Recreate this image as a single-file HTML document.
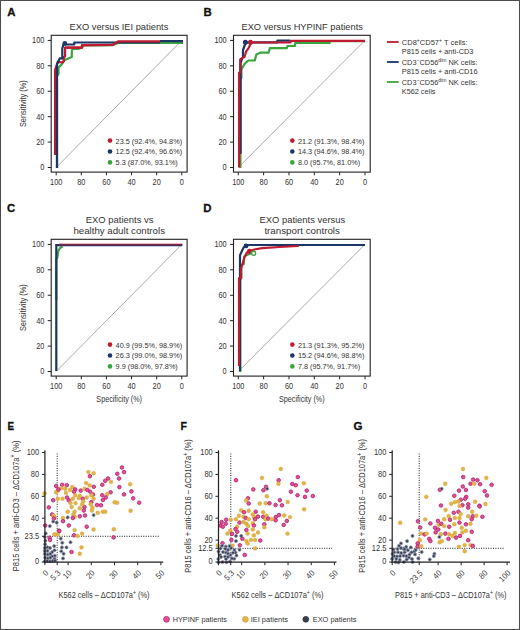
<!DOCTYPE html>
<html><head><meta charset="utf-8"><style>
html,body{margin:0;padding:0;background:#fff;}
svg{display:block;font-family:"Liberation Sans", sans-serif;}
</style></head><body>
<svg width="520" height="630" viewBox="0 0 520 630">
<rect width="520" height="630" fill="#fff"/>
<text x="7.20" y="15.70" font-size="11.4" text-anchor="start" fill="#111" font-weight="bold" stroke="#111" stroke-width="0.3">A</text>
<text x="118.90" y="30.00" font-size="9.3" text-anchor="middle" fill="#333333" textLength="98.80" lengthAdjust="spacingAndGlyphs" >EXO versus IEI patients</text>
<line x1="56.20" y1="167.50" x2="181.80" y2="40.40" stroke="#a9a9a9" stroke-width="1.0"/>
<path d="M57.00,168.00 L57.00,76.00 L58.50,74.00 L58.50,67.30 L61.00,65.40 L64.20,60.30 L71.20,57.20 L71.80,57.00 L71.80,50.20 L73.00,48.90 L78.20,48.90 L82.00,47.40 L84.00,45.30 L113.00,45.10 L118.00,43.00 L183.00,43.00"  fill="none" stroke="#3aa43f" stroke-width="2.2" stroke-linejoin="round"/>
<path d="M55.10,155.00 L55.10,69.90 L57.80,61.80 L62.50,62.50 L63.80,61.00 L63.80,57.00 L65.10,56.50 L65.10,47.60 L82.00,47.60 L82.00,45.10 L113.00,44.90"  fill="none" stroke="#c01a31" stroke-width="2.2" stroke-linejoin="round"/>
<path d="M57.00,168.00 L57.00,64.20 L59.70,58.40 L62.30,58.40 L62.30,48.30 L63.50,44.50 L74.30,44.50 L74.30,42.50 L160.00,42.50"  fill="none" stroke="#1a3566" stroke-width="2.2" stroke-linejoin="round"/>
<circle cx="64.80" cy="43.40" r="2.4" fill="#1a3566"/>
<path d="M65.10,47.60 L82.00,47.60 L82.00,45.10 L113.00,44.90 L118.00,41.30 L160.00,41.30"  fill="none" stroke="#c01a31" stroke-width="2.2" stroke-linejoin="round"/>
<path d="M160.00,41.10 L183.00,41.10"  fill="none" stroke="#1a3566" stroke-width="2.2" stroke-linejoin="round"/>
<rect x="51.20" y="35.30" width="135.90" height="136.80" fill="none" stroke="#231f20" stroke-width="1.1"/>
<line x1="47.70" y1="167.50" x2="51.20" y2="167.50" stroke="#231f20" stroke-width="1"/>
<text x="44.40" y="170.40" font-size="8.2" text-anchor="end" fill="#333333" textLength="4.10" lengthAdjust="spacingAndGlyphs" >0</text>
<line x1="47.70" y1="142.08" x2="51.20" y2="142.08" stroke="#231f20" stroke-width="1"/>
<text x="44.40" y="144.98" font-size="8.2" text-anchor="end" fill="#333333" textLength="8.21" lengthAdjust="spacingAndGlyphs" >20</text>
<line x1="47.70" y1="116.66" x2="51.20" y2="116.66" stroke="#231f20" stroke-width="1"/>
<text x="44.40" y="119.56" font-size="8.2" text-anchor="end" fill="#333333" textLength="8.21" lengthAdjust="spacingAndGlyphs" >40</text>
<line x1="47.70" y1="91.24" x2="51.20" y2="91.24" stroke="#231f20" stroke-width="1"/>
<text x="44.40" y="94.14" font-size="8.2" text-anchor="end" fill="#333333" textLength="8.21" lengthAdjust="spacingAndGlyphs" >60</text>
<line x1="47.70" y1="65.82" x2="51.20" y2="65.82" stroke="#231f20" stroke-width="1"/>
<text x="44.40" y="68.72" font-size="8.2" text-anchor="end" fill="#333333" textLength="8.21" lengthAdjust="spacingAndGlyphs" >80</text>
<line x1="47.70" y1="40.40" x2="51.20" y2="40.40" stroke="#231f20" stroke-width="1"/>
<text x="44.40" y="43.30" font-size="8.2" text-anchor="end" fill="#333333" textLength="12.31" lengthAdjust="spacingAndGlyphs" >100</text>
<line x1="181.80" y1="172.10" x2="181.80" y2="175.30" stroke="#231f20" stroke-width="1"/>
<text x="181.80" y="185.30" font-size="8.2" text-anchor="middle" fill="#333333" textLength="4.10" lengthAdjust="spacingAndGlyphs" >0</text>
<line x1="156.68" y1="172.10" x2="156.68" y2="175.30" stroke="#231f20" stroke-width="1"/>
<text x="156.68" y="185.30" font-size="8.2" text-anchor="middle" fill="#333333" textLength="8.21" lengthAdjust="spacingAndGlyphs" >20</text>
<line x1="131.56" y1="172.10" x2="131.56" y2="175.30" stroke="#231f20" stroke-width="1"/>
<text x="131.56" y="185.30" font-size="8.2" text-anchor="middle" fill="#333333" textLength="8.21" lengthAdjust="spacingAndGlyphs" >40</text>
<line x1="106.44" y1="172.10" x2="106.44" y2="175.30" stroke="#231f20" stroke-width="1"/>
<text x="106.44" y="185.30" font-size="8.2" text-anchor="middle" fill="#333333" textLength="8.21" lengthAdjust="spacingAndGlyphs" >60</text>
<line x1="81.32" y1="172.10" x2="81.32" y2="175.30" stroke="#231f20" stroke-width="1"/>
<text x="81.32" y="185.30" font-size="8.2" text-anchor="middle" fill="#333333" textLength="8.21" lengthAdjust="spacingAndGlyphs" >80</text>
<line x1="56.20" y1="172.10" x2="56.20" y2="175.30" stroke="#231f20" stroke-width="1"/>
<text x="56.20" y="185.30" font-size="8.2" text-anchor="middle" fill="#333333" textLength="12.31" lengthAdjust="spacingAndGlyphs" >100</text>
<text x="0.00" y="0.00" font-size="8.6" text-anchor="middle" fill="#333333" textLength="46.70" lengthAdjust="spacingAndGlyphs" transform="translate(26.20,103.70) rotate(-90)" >Sensitivity (%)</text>
<circle cx="110.00" cy="140.60" r="2.3" fill="#c01a31"/>
<text x="115.60" y="143.50" font-size="7.9" text-anchor="start" fill="#333333" textLength="66.50" lengthAdjust="spacingAndGlyphs" >23.5 (92.4%, 94.8%)</text>
<circle cx="110.00" cy="151.50" r="2.3" fill="#1a3566"/>
<text x="115.60" y="154.40" font-size="7.9" text-anchor="start" fill="#333333" textLength="66.50" lengthAdjust="spacingAndGlyphs" >12.5 (92.4%, 96.6%)</text>
<circle cx="110.00" cy="162.40" r="2.3" fill="#3aa43f"/>
<text x="115.60" y="165.30" font-size="7.9" text-anchor="start" fill="#333333" textLength="62.20" lengthAdjust="spacingAndGlyphs" >5.3 (87.0%, 93.1%)</text>
<text x="203.50" y="15.80" font-size="11.4" text-anchor="start" fill="#111" font-weight="bold" stroke="#111" stroke-width="0.3">B</text>
<text x="302.20" y="30.00" font-size="9.3" text-anchor="middle" fill="#333333" textLength="121.50" lengthAdjust="spacingAndGlyphs" >EXO versus HYPINF patients</text>
<line x1="238.30" y1="167.50" x2="365.00" y2="40.40" stroke="#a9a9a9" stroke-width="1.0"/>
<path d="M240.40,168.00 L240.40,80.00 L241.40,78.00 L241.40,69.40 L244.50,64.00 L248.30,60.50 L254.80,60.50 L256.40,54.40 L260.60,52.60 L268.60,52.60 L269.80,48.20 L286.80,48.20 L287.40,46.00 L295.00,46.00 L295.30,42.90 L329.70,42.90 L329.70,41.20 L365.00,41.20"  fill="none" stroke="#3aa43f" stroke-width="2.2" stroke-linejoin="round"/>
<path d="M240.60,153.80 L240.60,63.00 L241.80,59.40 L243.00,57.00 L243.00,50.00 L245.00,44.50 L246.00,42.50 L277.40,42.30 L277.40,40.60 L290.00,40.60"  fill="none" stroke="#1a3566" stroke-width="2.2" stroke-linejoin="round"/>
<circle cx="245.40" cy="42.30" r="2.5" fill="#1a3566"/>
<path d="M239.10,167.50 L239.10,72.50 L240.20,72.50 L240.20,59.40 L242.50,57.80 L244.50,57.00 L246.00,51.70 L248.30,48.60 L250.50,44.00 L252.00,42.50 L290.50,42.50 L290.50,40.90 L365.00,40.90"  fill="none" stroke="#c01a31" stroke-width="2.2" stroke-linejoin="round"/>
<circle cx="250.50" cy="42.20" r="2.5" fill="#c01a31"/>
<rect x="233.50" y="35.30" width="136.70" height="136.80" fill="none" stroke="#231f20" stroke-width="1.1"/>
<line x1="230.00" y1="167.50" x2="233.50" y2="167.50" stroke="#231f20" stroke-width="1"/>
<text x="226.70" y="170.40" font-size="8.2" text-anchor="end" fill="#333333" textLength="4.10" lengthAdjust="spacingAndGlyphs" >0</text>
<line x1="230.00" y1="142.08" x2="233.50" y2="142.08" stroke="#231f20" stroke-width="1"/>
<text x="226.70" y="144.98" font-size="8.2" text-anchor="end" fill="#333333" textLength="8.21" lengthAdjust="spacingAndGlyphs" >20</text>
<line x1="230.00" y1="116.66" x2="233.50" y2="116.66" stroke="#231f20" stroke-width="1"/>
<text x="226.70" y="119.56" font-size="8.2" text-anchor="end" fill="#333333" textLength="8.21" lengthAdjust="spacingAndGlyphs" >40</text>
<line x1="230.00" y1="91.24" x2="233.50" y2="91.24" stroke="#231f20" stroke-width="1"/>
<text x="226.70" y="94.14" font-size="8.2" text-anchor="end" fill="#333333" textLength="8.21" lengthAdjust="spacingAndGlyphs" >60</text>
<line x1="230.00" y1="65.82" x2="233.50" y2="65.82" stroke="#231f20" stroke-width="1"/>
<text x="226.70" y="68.72" font-size="8.2" text-anchor="end" fill="#333333" textLength="8.21" lengthAdjust="spacingAndGlyphs" >80</text>
<line x1="230.00" y1="40.40" x2="233.50" y2="40.40" stroke="#231f20" stroke-width="1"/>
<text x="226.70" y="43.30" font-size="8.2" text-anchor="end" fill="#333333" textLength="12.31" lengthAdjust="spacingAndGlyphs" >100</text>
<line x1="365.00" y1="172.10" x2="365.00" y2="175.30" stroke="#231f20" stroke-width="1"/>
<text x="365.00" y="185.30" font-size="8.2" text-anchor="middle" fill="#333333" textLength="4.10" lengthAdjust="spacingAndGlyphs" >0</text>
<line x1="339.66" y1="172.10" x2="339.66" y2="175.30" stroke="#231f20" stroke-width="1"/>
<text x="339.66" y="185.30" font-size="8.2" text-anchor="middle" fill="#333333" textLength="8.21" lengthAdjust="spacingAndGlyphs" >20</text>
<line x1="314.32" y1="172.10" x2="314.32" y2="175.30" stroke="#231f20" stroke-width="1"/>
<text x="314.32" y="185.30" font-size="8.2" text-anchor="middle" fill="#333333" textLength="8.21" lengthAdjust="spacingAndGlyphs" >40</text>
<line x1="288.98" y1="172.10" x2="288.98" y2="175.30" stroke="#231f20" stroke-width="1"/>
<text x="288.98" y="185.30" font-size="8.2" text-anchor="middle" fill="#333333" textLength="8.21" lengthAdjust="spacingAndGlyphs" >60</text>
<line x1="263.64" y1="172.10" x2="263.64" y2="175.30" stroke="#231f20" stroke-width="1"/>
<text x="263.64" y="185.30" font-size="8.2" text-anchor="middle" fill="#333333" textLength="8.21" lengthAdjust="spacingAndGlyphs" >80</text>
<line x1="238.30" y1="172.10" x2="238.30" y2="175.30" stroke="#231f20" stroke-width="1"/>
<text x="238.30" y="185.30" font-size="8.2" text-anchor="middle" fill="#333333" textLength="12.31" lengthAdjust="spacingAndGlyphs" >100</text>
<circle cx="292.30" cy="140.60" r="2.3" fill="#c01a31"/>
<text x="297.90" y="143.50" font-size="7.9" text-anchor="start" fill="#333333" textLength="66.50" lengthAdjust="spacingAndGlyphs" >21.2 (91.3%, 98.4%)</text>
<circle cx="292.30" cy="151.50" r="2.3" fill="#1a3566"/>
<text x="297.90" y="154.40" font-size="7.9" text-anchor="start" fill="#333333" textLength="66.50" lengthAdjust="spacingAndGlyphs" >14.3 (94.6%, 98.4%)</text>
<circle cx="292.30" cy="162.40" r="2.3" fill="#3aa43f"/>
<text x="297.90" y="165.30" font-size="7.9" text-anchor="start" fill="#333333" textLength="62.20" lengthAdjust="spacingAndGlyphs" >8.0 (95.7%, 81.0%)</text>
<text x="7.00" y="211.80" font-size="11.4" text-anchor="start" fill="#111" font-weight="bold" stroke="#111" stroke-width="0.3">C</text>
<text x="119.60" y="222.80" font-size="9.3" text-anchor="middle" fill="#333333" textLength="67.70" lengthAdjust="spacingAndGlyphs" >EXO patients vs</text>
<text x="119.20" y="233.80" font-size="9.3" text-anchor="middle" fill="#333333" textLength="91.60" lengthAdjust="spacingAndGlyphs" >healthy adult controls</text>
<line x1="56.20" y1="371.50" x2="181.80" y2="244.40" stroke="#a9a9a9" stroke-width="1.0"/>
<path d="M56.30,300.00 L56.30,259.00 L57.40,257.50 L58.20,251.00 L60.00,248.00 L62.50,246.50"  fill="none" stroke="#3aa43f" stroke-width="2.2" stroke-linejoin="round"/>
<path d="M56.30,371.00 L56.30,245.20 L182.30,245.20" stroke-linejoin="miter" fill="none" stroke="#1a3566" stroke-width="2.2" stroke-linejoin="round"/>
<path d="M59.00,244.60 L182.30,244.60" stroke-opacity="0.6" stroke-width="2" fill="none" stroke="#c01a31" stroke-width="2.2" stroke-linejoin="round"/>
<rect x="51.20" y="239.30" width="135.90" height="136.80" fill="none" stroke="#231f20" stroke-width="1.1"/>
<line x1="47.70" y1="371.50" x2="51.20" y2="371.50" stroke="#231f20" stroke-width="1"/>
<text x="44.40" y="374.40" font-size="8.2" text-anchor="end" fill="#333333" textLength="4.10" lengthAdjust="spacingAndGlyphs" >0</text>
<line x1="47.70" y1="346.08" x2="51.20" y2="346.08" stroke="#231f20" stroke-width="1"/>
<text x="44.40" y="348.98" font-size="8.2" text-anchor="end" fill="#333333" textLength="8.21" lengthAdjust="spacingAndGlyphs" >20</text>
<line x1="47.70" y1="320.66" x2="51.20" y2="320.66" stroke="#231f20" stroke-width="1"/>
<text x="44.40" y="323.56" font-size="8.2" text-anchor="end" fill="#333333" textLength="8.21" lengthAdjust="spacingAndGlyphs" >40</text>
<line x1="47.70" y1="295.24" x2="51.20" y2="295.24" stroke="#231f20" stroke-width="1"/>
<text x="44.40" y="298.14" font-size="8.2" text-anchor="end" fill="#333333" textLength="8.21" lengthAdjust="spacingAndGlyphs" >60</text>
<line x1="47.70" y1="269.82" x2="51.20" y2="269.82" stroke="#231f20" stroke-width="1"/>
<text x="44.40" y="272.72" font-size="8.2" text-anchor="end" fill="#333333" textLength="8.21" lengthAdjust="spacingAndGlyphs" >80</text>
<line x1="47.70" y1="244.40" x2="51.20" y2="244.40" stroke="#231f20" stroke-width="1"/>
<text x="44.40" y="247.30" font-size="8.2" text-anchor="end" fill="#333333" textLength="12.31" lengthAdjust="spacingAndGlyphs" >100</text>
<line x1="181.80" y1="376.10" x2="181.80" y2="379.30" stroke="#231f20" stroke-width="1"/>
<text x="181.80" y="389.30" font-size="8.2" text-anchor="middle" fill="#333333" textLength="4.10" lengthAdjust="spacingAndGlyphs" >0</text>
<line x1="156.68" y1="376.10" x2="156.68" y2="379.30" stroke="#231f20" stroke-width="1"/>
<text x="156.68" y="389.30" font-size="8.2" text-anchor="middle" fill="#333333" textLength="8.21" lengthAdjust="spacingAndGlyphs" >20</text>
<line x1="131.56" y1="376.10" x2="131.56" y2="379.30" stroke="#231f20" stroke-width="1"/>
<text x="131.56" y="389.30" font-size="8.2" text-anchor="middle" fill="#333333" textLength="8.21" lengthAdjust="spacingAndGlyphs" >40</text>
<line x1="106.44" y1="376.10" x2="106.44" y2="379.30" stroke="#231f20" stroke-width="1"/>
<text x="106.44" y="389.30" font-size="8.2" text-anchor="middle" fill="#333333" textLength="8.21" lengthAdjust="spacingAndGlyphs" >60</text>
<line x1="81.32" y1="376.10" x2="81.32" y2="379.30" stroke="#231f20" stroke-width="1"/>
<text x="81.32" y="389.30" font-size="8.2" text-anchor="middle" fill="#333333" textLength="8.21" lengthAdjust="spacingAndGlyphs" >80</text>
<line x1="56.20" y1="376.10" x2="56.20" y2="379.30" stroke="#231f20" stroke-width="1"/>
<text x="56.20" y="389.30" font-size="8.2" text-anchor="middle" fill="#333333" textLength="12.31" lengthAdjust="spacingAndGlyphs" >100</text>
<text x="0.00" y="0.00" font-size="8.6" text-anchor="middle" fill="#333333" textLength="46.70" lengthAdjust="spacingAndGlyphs" transform="translate(26.20,307.70) rotate(-90)" >Sensitivity (%)</text>
<text x="119.15" y="402.10" font-size="8.6" text-anchor="middle" fill="#333333" textLength="45.60" lengthAdjust="spacingAndGlyphs" >Specificity (%)</text>
<circle cx="110.00" cy="344.60" r="2.3" fill="#c01a31"/>
<text x="115.60" y="347.50" font-size="7.9" text-anchor="start" fill="#333333" textLength="66.50" lengthAdjust="spacingAndGlyphs" >40.9 (99.5%, 98.9%)</text>
<circle cx="110.00" cy="355.50" r="2.3" fill="#1a3566"/>
<text x="115.60" y="358.40" font-size="7.9" text-anchor="start" fill="#333333" textLength="66.50" lengthAdjust="spacingAndGlyphs" >26.3 (99.0%, 98.9%)</text>
<circle cx="110.00" cy="366.40" r="2.3" fill="#3aa43f"/>
<text x="115.60" y="369.30" font-size="7.9" text-anchor="start" fill="#333333" textLength="62.20" lengthAdjust="spacingAndGlyphs" >9.9 (98.0%, 97.8%)</text>
<text x="203.20" y="211.80" font-size="11.4" text-anchor="start" fill="#111" font-weight="bold" stroke="#111" stroke-width="0.3">D</text>
<text x="302.35" y="222.80" font-size="9.3" text-anchor="middle" fill="#333333" textLength="85.70" lengthAdjust="spacingAndGlyphs" >EXO patients versus</text>
<text x="302.15" y="233.60" font-size="9.3" text-anchor="middle" fill="#333333" textLength="75.50" lengthAdjust="spacingAndGlyphs" >transport controls</text>
<line x1="238.30" y1="371.50" x2="365.00" y2="244.40" stroke="#a9a9a9" stroke-width="1.0"/>
<path d="M240.30,372.00 L240.30,280.00 L241.40,278.00 L241.40,265.40 L243.80,264.00 L244.20,256.50 L247.00,255.00 L251.00,253.30"  fill="none" stroke="#3aa43f" stroke-width="2.2" stroke-linejoin="round"/>
<path d="M240.00,371.00 L240.00,255.20 L243.50,247.60 L246.00,245.70 L249.00,245.00 L365.00,245.00"  fill="none" stroke="#1a3566" stroke-width="2.2" stroke-linejoin="round"/>
<circle cx="246.00" cy="245.90" r="2.4" fill="#1a3566"/>
<path d="M239.00,366.00 L239.00,278.00 L241.00,278.00 L241.00,268.00 L242.90,262.80 L244.20,257.80 L246.70,252.70 L249.50,251.00 L254.30,249.50 L262.00,248.20 L279.70,247.00 L298.00,246.00 L298.00,245.50"  fill="none" stroke="#c01a31" stroke-width="2.2" stroke-linejoin="round"/>
<circle cx="249.50" cy="251.20" r="2.5" fill="#c01a31"/>
<circle cx="253.60" cy="253.30" r="2.1" fill="none" stroke="#3aa43f" stroke-width="1.4"/>
<rect x="233.50" y="239.30" width="136.70" height="136.80" fill="none" stroke="#231f20" stroke-width="1.1"/>
<line x1="230.00" y1="371.50" x2="233.50" y2="371.50" stroke="#231f20" stroke-width="1"/>
<text x="226.70" y="374.40" font-size="8.2" text-anchor="end" fill="#333333" textLength="4.10" lengthAdjust="spacingAndGlyphs" >0</text>
<line x1="230.00" y1="346.08" x2="233.50" y2="346.08" stroke="#231f20" stroke-width="1"/>
<text x="226.70" y="348.98" font-size="8.2" text-anchor="end" fill="#333333" textLength="8.21" lengthAdjust="spacingAndGlyphs" >20</text>
<line x1="230.00" y1="320.66" x2="233.50" y2="320.66" stroke="#231f20" stroke-width="1"/>
<text x="226.70" y="323.56" font-size="8.2" text-anchor="end" fill="#333333" textLength="8.21" lengthAdjust="spacingAndGlyphs" >40</text>
<line x1="230.00" y1="295.24" x2="233.50" y2="295.24" stroke="#231f20" stroke-width="1"/>
<text x="226.70" y="298.14" font-size="8.2" text-anchor="end" fill="#333333" textLength="8.21" lengthAdjust="spacingAndGlyphs" >60</text>
<line x1="230.00" y1="269.82" x2="233.50" y2="269.82" stroke="#231f20" stroke-width="1"/>
<text x="226.70" y="272.72" font-size="8.2" text-anchor="end" fill="#333333" textLength="8.21" lengthAdjust="spacingAndGlyphs" >80</text>
<line x1="230.00" y1="244.40" x2="233.50" y2="244.40" stroke="#231f20" stroke-width="1"/>
<text x="226.70" y="247.30" font-size="8.2" text-anchor="end" fill="#333333" textLength="12.31" lengthAdjust="spacingAndGlyphs" >100</text>
<line x1="365.00" y1="376.10" x2="365.00" y2="379.30" stroke="#231f20" stroke-width="1"/>
<text x="365.00" y="389.30" font-size="8.2" text-anchor="middle" fill="#333333" textLength="4.10" lengthAdjust="spacingAndGlyphs" >0</text>
<line x1="339.66" y1="376.10" x2="339.66" y2="379.30" stroke="#231f20" stroke-width="1"/>
<text x="339.66" y="389.30" font-size="8.2" text-anchor="middle" fill="#333333" textLength="8.21" lengthAdjust="spacingAndGlyphs" >20</text>
<line x1="314.32" y1="376.10" x2="314.32" y2="379.30" stroke="#231f20" stroke-width="1"/>
<text x="314.32" y="389.30" font-size="8.2" text-anchor="middle" fill="#333333" textLength="8.21" lengthAdjust="spacingAndGlyphs" >40</text>
<line x1="288.98" y1="376.10" x2="288.98" y2="379.30" stroke="#231f20" stroke-width="1"/>
<text x="288.98" y="389.30" font-size="8.2" text-anchor="middle" fill="#333333" textLength="8.21" lengthAdjust="spacingAndGlyphs" >60</text>
<line x1="263.64" y1="376.10" x2="263.64" y2="379.30" stroke="#231f20" stroke-width="1"/>
<text x="263.64" y="389.30" font-size="8.2" text-anchor="middle" fill="#333333" textLength="8.21" lengthAdjust="spacingAndGlyphs" >80</text>
<line x1="238.30" y1="376.10" x2="238.30" y2="379.30" stroke="#231f20" stroke-width="1"/>
<text x="238.30" y="389.30" font-size="8.2" text-anchor="middle" fill="#333333" textLength="12.31" lengthAdjust="spacingAndGlyphs" >100</text>
<text x="301.85" y="402.10" font-size="8.6" text-anchor="middle" fill="#333333" textLength="45.60" lengthAdjust="spacingAndGlyphs" >Specificity (%)</text>
<circle cx="292.30" cy="344.60" r="2.3" fill="#c01a31"/>
<text x="297.90" y="347.50" font-size="7.9" text-anchor="start" fill="#333333" textLength="66.50" lengthAdjust="spacingAndGlyphs" >21.3 (91.3%, 95.2%)</text>
<circle cx="292.30" cy="355.50" r="2.3" fill="#1a3566"/>
<text x="297.90" y="358.40" font-size="7.9" text-anchor="start" fill="#333333" textLength="66.50" lengthAdjust="spacingAndGlyphs" >15.2 (94.6%, 98.8%)</text>
<circle cx="292.30" cy="366.40" r="2.3" fill="#3aa43f"/>
<text x="297.90" y="369.30" font-size="7.9" text-anchor="start" fill="#333333" textLength="62.20" lengthAdjust="spacingAndGlyphs" >7.8 (95.7%, 91.7%)</text>
<line x1="386.9" y1="42.0" x2="398.7" y2="42.0" stroke="#c01a31" stroke-width="1.8"/>
<text x="401.8" y="45.10" font-size="7.6" fill="#333333" textLength="65.8" lengthAdjust="spacingAndGlyphs">CD8<tspan font-size="5.2" dy="-3.2">+</tspan><tspan dy="3.2">CD57</tspan><tspan font-size="5.2" dy="-3.2">+</tspan><tspan dy="3.2"> T cells:</tspan></text>
<text x="401.80" y="53.80" font-size="7.6" text-anchor="start" fill="#333333" textLength="71.60" lengthAdjust="spacingAndGlyphs" >P815 cells + anti-CD3</text>
<line x1="386.9" y1="62.0" x2="398.7" y2="62.0" stroke="#1a3566" stroke-width="1.8"/>
<text x="401.8" y="65.10" font-size="7.6" fill="#333333" textLength="75.8" lengthAdjust="spacingAndGlyphs">CD3<tspan font-size="5.2" dy="-3.2">−</tspan><tspan dy="3.2">CD56</tspan><tspan font-size="5.2" dy="-3.2">dim</tspan><tspan dy="3.2"> NK cells:</tspan></text>
<text x="401.80" y="73.80" font-size="7.6" text-anchor="start" fill="#333333" textLength="75.80" lengthAdjust="spacingAndGlyphs" >P815 cells + anti-CD16</text>
<line x1="386.9" y1="82.0" x2="398.7" y2="82.0" stroke="#3aa43f" stroke-width="1.8"/>
<text x="401.8" y="85.10" font-size="7.6" fill="#333333" textLength="75.8" lengthAdjust="spacingAndGlyphs">CD3<tspan font-size="5.2" dy="-3.2">−</tspan><tspan dy="3.2">CD56</tspan><tspan font-size="5.2" dy="-3.2">dim</tspan><tspan dy="3.2"> NK cells:</tspan></text>
<text x="401.80" y="93.80" font-size="7.6" text-anchor="start" fill="#333333" textLength="33.60" lengthAdjust="spacingAndGlyphs" >K562 cells</text>
<text x="7.40" y="429.60" font-size="11.4" text-anchor="start" fill="#111" font-weight="bold" textLength="6.60" lengthAdjust="spacingAndGlyphs" stroke="#111" stroke-width="0.3">E</text>
<line x1="57.20" y1="453.50" x2="57.20" y2="562.20" stroke="#1e1e1e" stroke-width="1.0" stroke-dasharray="1.0 1.4"/>
<line x1="44.90" y1="536.27" x2="159.40" y2="536.27" stroke="#1e1e1e" stroke-width="1.0" stroke-dasharray="1.0 1.4"/>
<circle cx="88.4" cy="472.1" r="1.95" fill="#e2b447" stroke="#d0a23c" stroke-width="0.4"/>
<circle cx="93.6" cy="473.3" r="1.95" fill="#e2b447" stroke="#d0a23c" stroke-width="0.4"/>
<circle cx="89.9" cy="476.2" r="1.8" fill="#e0519a" stroke="#b3246c" stroke-width="0.85"/>
<circle cx="86.1" cy="483.1" r="1.95" fill="#e2b447" stroke="#d0a23c" stroke-width="0.4"/>
<circle cx="89.6" cy="485.4" r="1.95" fill="#e2b447" stroke="#d0a23c" stroke-width="0.4"/>
<circle cx="93.8" cy="486.8" r="1.8" fill="#e0519a" stroke="#b3246c" stroke-width="0.85"/>
<circle cx="102.3" cy="484.8" r="1.8" fill="#e0519a" stroke="#b3246c" stroke-width="0.85"/>
<circle cx="56.1" cy="486.0" r="1.8" fill="#e0519a" stroke="#b3246c" stroke-width="0.85"/>
<circle cx="62.2" cy="484.8" r="1.8" fill="#e0519a" stroke="#b3246c" stroke-width="0.85"/>
<circle cx="66.8" cy="485.2" r="1.8" fill="#e0519a" stroke="#b3246c" stroke-width="0.85"/>
<circle cx="61.3" cy="488.3" r="1.95" fill="#e2b447" stroke="#d0a23c" stroke-width="0.4"/>
<circle cx="65.3" cy="488.8" r="1.95" fill="#e2b447" stroke="#d0a23c" stroke-width="0.4"/>
<circle cx="72.3" cy="487.1" r="1.95" fill="#e2b447" stroke="#d0a23c" stroke-width="0.4"/>
<circle cx="70.0" cy="490.0" r="1.95" fill="#e2b447" stroke="#d0a23c" stroke-width="0.4"/>
<circle cx="75.2" cy="489.4" r="1.8" fill="#e0519a" stroke="#b3246c" stroke-width="0.85"/>
<circle cx="74.0" cy="491.7" r="1.8" fill="#e0519a" stroke="#b3246c" stroke-width="0.85"/>
<circle cx="80.7" cy="490.6" r="1.8" fill="#e0519a" stroke="#b3246c" stroke-width="0.85"/>
<circle cx="84.6" cy="488.8" r="1.95" fill="#e2b447" stroke="#d0a23c" stroke-width="0.4"/>
<circle cx="87.3" cy="490.0" r="1.8" fill="#e0519a" stroke="#b3246c" stroke-width="0.85"/>
<circle cx="90.2" cy="491.7" r="1.8" fill="#e0519a" stroke="#b3246c" stroke-width="0.85"/>
<circle cx="93.0" cy="494.6" r="1.8" fill="#e0519a" stroke="#b3246c" stroke-width="0.85"/>
<circle cx="91.3" cy="495.2" r="1.95" fill="#e2b447" stroke="#d0a23c" stroke-width="0.4"/>
<circle cx="56.1" cy="492.3" r="1.95" fill="#e2b447" stroke="#d0a23c" stroke-width="0.4"/>
<circle cx="57.8" cy="490.6" r="1.95" fill="#e2b447" stroke="#d0a23c" stroke-width="0.4"/>
<circle cx="44.6" cy="493.5" r="1.95" fill="#e2b447" stroke="#d0a23c" stroke-width="0.4"/>
<circle cx="58.4" cy="489.4" r="1.8" fill="#e0519a" stroke="#b3246c" stroke-width="0.85"/>
<circle cx="65.9" cy="492.9" r="1.95" fill="#e2b447" stroke="#d0a23c" stroke-width="0.4"/>
<circle cx="75.2" cy="495.2" r="1.95" fill="#e2b447" stroke="#d0a23c" stroke-width="0.4"/>
<circle cx="79.8" cy="495.8" r="1.95" fill="#e2b447" stroke="#d0a23c" stroke-width="0.4"/>
<circle cx="86.7" cy="497.5" r="1.95" fill="#e2b447" stroke="#d0a23c" stroke-width="0.4"/>
<circle cx="93.6" cy="498.7" r="1.95" fill="#e2b447" stroke="#d0a23c" stroke-width="0.4"/>
<circle cx="102.3" cy="495.2" r="1.8" fill="#e0519a" stroke="#b3246c" stroke-width="0.85"/>
<circle cx="102.9" cy="500.0" r="1.8" fill="#e0519a" stroke="#b3246c" stroke-width="0.85"/>
<circle cx="53.2" cy="500.2" r="1.8" fill="#e0519a" stroke="#b3246c" stroke-width="0.85"/>
<circle cx="57.8" cy="498.7" r="1.95" fill="#e2b447" stroke="#d0a23c" stroke-width="0.4"/>
<circle cx="62.5" cy="498.7" r="1.95" fill="#e2b447" stroke="#d0a23c" stroke-width="0.4"/>
<circle cx="67.1" cy="497.5" r="1.8" fill="#e0519a" stroke="#b3246c" stroke-width="0.85"/>
<circle cx="68.8" cy="500.4" r="1.8" fill="#e0519a" stroke="#b3246c" stroke-width="0.85"/>
<circle cx="72.8" cy="498.7" r="1.95" fill="#e2b447" stroke="#d0a23c" stroke-width="0.4"/>
<circle cx="78.6" cy="498.1" r="1.95" fill="#e2b447" stroke="#d0a23c" stroke-width="0.4"/>
<circle cx="82.7" cy="498.7" r="1.8" fill="#e0519a" stroke="#b3246c" stroke-width="0.85"/>
<circle cx="83.2" cy="501.5" r="1.95" fill="#e2b447" stroke="#d0a23c" stroke-width="0.4"/>
<circle cx="91.3" cy="502.1" r="1.8" fill="#e0519a" stroke="#b3246c" stroke-width="0.85"/>
<circle cx="70.5" cy="502.9" r="1.95" fill="#e2b447" stroke="#d0a23c" stroke-width="0.4"/>
<circle cx="75.5" cy="503.1" r="1.95" fill="#e2b447" stroke="#d0a23c" stroke-width="0.4"/>
<circle cx="97.0" cy="505.0" r="1.8" fill="#e0519a" stroke="#b3246c" stroke-width="0.85"/>
<circle cx="101.0" cy="505.3" r="1.8" fill="#e0519a" stroke="#b3246c" stroke-width="0.85"/>
<circle cx="121.9" cy="467.5" r="1.8" fill="#e0519a" stroke="#b3246c" stroke-width="0.85"/>
<circle cx="124.0" cy="472.1" r="1.8" fill="#e0519a" stroke="#b3246c" stroke-width="0.85"/>
<circle cx="117.3" cy="473.8" r="1.8" fill="#e0519a" stroke="#b3246c" stroke-width="0.85"/>
<circle cx="119.0" cy="478.5" r="1.8" fill="#e0519a" stroke="#b3246c" stroke-width="0.85"/>
<circle cx="108.1" cy="478.5" r="1.8" fill="#e0519a" stroke="#b3246c" stroke-width="0.85"/>
<circle cx="105.2" cy="480.8" r="1.8" fill="#e0519a" stroke="#b3246c" stroke-width="0.85"/>
<circle cx="111.0" cy="481.9" r="1.95" fill="#e2b447" stroke="#d0a23c" stroke-width="0.4"/>
<circle cx="130.2" cy="484.2" r="1.95" fill="#e2b447" stroke="#d0a23c" stroke-width="0.4"/>
<circle cx="119.4" cy="487.1" r="1.8" fill="#e0519a" stroke="#b3246c" stroke-width="0.85"/>
<circle cx="110.6" cy="492.3" r="1.8" fill="#e0519a" stroke="#b3246c" stroke-width="0.85"/>
<circle cx="107.2" cy="494.0" r="1.95" fill="#e2b447" stroke="#d0a23c" stroke-width="0.4"/>
<circle cx="105.8" cy="497.5" r="1.8" fill="#e0519a" stroke="#b3246c" stroke-width="0.85"/>
<circle cx="124.0" cy="494.4" r="1.8" fill="#e0519a" stroke="#b3246c" stroke-width="0.85"/>
<circle cx="131.4" cy="491.4" r="1.8" fill="#e0519a" stroke="#b3246c" stroke-width="0.85"/>
<circle cx="133.2" cy="498.3" r="1.8" fill="#e0519a" stroke="#b3246c" stroke-width="0.85"/>
<circle cx="139.2" cy="502.7" r="1.8" fill="#e0519a" stroke="#b3246c" stroke-width="0.85"/>
<circle cx="114.6" cy="502.3" r="1.95" fill="#e2b447" stroke="#d0a23c" stroke-width="0.4"/>
<circle cx="117.1" cy="502.7" r="1.95" fill="#e2b447" stroke="#d0a23c" stroke-width="0.4"/>
<circle cx="48.8" cy="507.4" r="1.8" fill="#e0519a" stroke="#b3246c" stroke-width="0.85"/>
<circle cx="71.7" cy="507.0" r="1.95" fill="#e2b447" stroke="#d0a23c" stroke-width="0.4"/>
<circle cx="79.8" cy="508.2" r="1.95" fill="#e2b447" stroke="#d0a23c" stroke-width="0.4"/>
<circle cx="84.4" cy="507.0" r="1.8" fill="#e0519a" stroke="#b3246c" stroke-width="0.85"/>
<circle cx="83.8" cy="510.5" r="1.8" fill="#e0519a" stroke="#b3246c" stroke-width="0.85"/>
<circle cx="82.1" cy="504.2" r="1.95" fill="#e2b447" stroke="#d0a23c" stroke-width="0.4"/>
<circle cx="90.7" cy="504.2" r="1.95" fill="#e2b447" stroke="#d0a23c" stroke-width="0.4"/>
<circle cx="92.5" cy="507.6" r="1.95" fill="#e2b447" stroke="#d0a23c" stroke-width="0.4"/>
<circle cx="91.9" cy="510.5" r="1.95" fill="#e2b447" stroke="#d0a23c" stroke-width="0.4"/>
<circle cx="97.7" cy="512.8" r="1.95" fill="#e2b447" stroke="#d0a23c" stroke-width="0.4"/>
<circle cx="102.8" cy="511.7" r="1.95" fill="#e2b447" stroke="#d0a23c" stroke-width="0.4"/>
<circle cx="67.7" cy="511.7" r="1.95" fill="#e2b447" stroke="#d0a23c" stroke-width="0.4"/>
<circle cx="74.6" cy="511.7" r="1.95" fill="#e2b447" stroke="#d0a23c" stroke-width="0.4"/>
<circle cx="73.4" cy="514.5" r="1.95" fill="#e2b447" stroke="#d0a23c" stroke-width="0.4"/>
<circle cx="74.6" cy="516.8" r="1.95" fill="#e2b447" stroke="#d0a23c" stroke-width="0.4"/>
<circle cx="72.8" cy="518.0" r="1.8" fill="#e0519a" stroke="#b3246c" stroke-width="0.85"/>
<circle cx="79.8" cy="516.3" r="1.8" fill="#e0519a" stroke="#b3246c" stroke-width="0.85"/>
<circle cx="85.0" cy="515.5" r="1.8" fill="#e0519a" stroke="#b3246c" stroke-width="0.85"/>
<circle cx="93.6" cy="515.1" r="1.55" fill="#3a3f52" stroke="#8d95ab" stroke-width="0.8"/>
<circle cx="52.1" cy="514.5" r="1.8" fill="#e0519a" stroke="#b3246c" stroke-width="0.85"/>
<circle cx="53.8" cy="515.7" r="1.95" fill="#e2b447" stroke="#d0a23c" stroke-width="0.4"/>
<circle cx="54.4" cy="517.4" r="1.95" fill="#e2b447" stroke="#d0a23c" stroke-width="0.4"/>
<circle cx="53.8" cy="518.6" r="1.8" fill="#e0519a" stroke="#b3246c" stroke-width="0.85"/>
<circle cx="53.2" cy="521.5" r="1.55" fill="#3a3f52" stroke="#8d95ab" stroke-width="0.8"/>
<circle cx="56.7" cy="522.6" r="1.55" fill="#3a3f52" stroke="#8d95ab" stroke-width="0.8"/>
<circle cx="63.0" cy="518.0" r="1.95" fill="#e2b447" stroke="#d0a23c" stroke-width="0.4"/>
<circle cx="67.7" cy="517.4" r="1.55" fill="#3a3f52" stroke="#8d95ab" stroke-width="0.8"/>
<circle cx="63.0" cy="521.2" r="1.8" fill="#e0519a" stroke="#b3246c" stroke-width="0.85"/>
<circle cx="68.8" cy="525.5" r="1.8" fill="#e0519a" stroke="#b3246c" stroke-width="0.85"/>
<circle cx="45.2" cy="525.5" r="1.8" fill="#e0519a" stroke="#b3246c" stroke-width="0.85"/>
<circle cx="49.8" cy="526.1" r="1.55" fill="#3a3f52" stroke="#8d95ab" stroke-width="0.8"/>
<circle cx="86.7" cy="526.7" r="1.8" fill="#e0519a" stroke="#b3246c" stroke-width="0.85"/>
<circle cx="93.6" cy="529.5" r="1.95" fill="#e2b447" stroke="#d0a23c" stroke-width="0.4"/>
<circle cx="59.0" cy="530.7" r="1.8" fill="#e0519a" stroke="#b3246c" stroke-width="0.85"/>
<circle cx="74.6" cy="530.1" r="1.95" fill="#e2b447" stroke="#d0a23c" stroke-width="0.4"/>
<circle cx="82.1" cy="533.6" r="1.95" fill="#e2b447" stroke="#d0a23c" stroke-width="0.4"/>
<circle cx="54.5" cy="534.3" r="1.95" fill="#e2b447" stroke="#d0a23c" stroke-width="0.4"/>
<circle cx="57.8" cy="534.5" r="1.95" fill="#e2b447" stroke="#d0a23c" stroke-width="0.4"/>
<circle cx="74.0" cy="535.3" r="1.8" fill="#e0519a" stroke="#b3246c" stroke-width="0.85"/>
<circle cx="77.5" cy="535.9" r="1.95" fill="#e2b447" stroke="#d0a23c" stroke-width="0.4"/>
<circle cx="49.6" cy="537.7" r="1.8" fill="#e0519a" stroke="#b3246c" stroke-width="0.85"/>
<circle cx="50.0" cy="540.0" r="1.8" fill="#e0519a" stroke="#b3246c" stroke-width="0.85"/>
<circle cx="59.3" cy="531.0" r="1.8" fill="#e0519a" stroke="#b3246c" stroke-width="0.85"/>
<circle cx="60.8" cy="538.6" r="1.55" fill="#3a3f52" stroke="#8d95ab" stroke-width="0.8"/>
<circle cx="62.3" cy="542.8" r="1.55" fill="#3a3f52" stroke="#8d95ab" stroke-width="0.8"/>
<circle cx="70.5" cy="542.2" r="1.55" fill="#3a3f52" stroke="#8d95ab" stroke-width="0.8"/>
<circle cx="61.9" cy="547.4" r="1.55" fill="#3a3f52" stroke="#8d95ab" stroke-width="0.8"/>
<circle cx="66.5" cy="547.4" r="1.55" fill="#3a3f52" stroke="#8d95ab" stroke-width="0.8"/>
<circle cx="61.3" cy="551.2" r="1.55" fill="#3a3f52" stroke="#8d95ab" stroke-width="0.8"/>
<circle cx="63.6" cy="553.8" r="1.55" fill="#3a3f52" stroke="#8d95ab" stroke-width="0.8"/>
<circle cx="63.0" cy="558.4" r="1.55" fill="#3a3f52" stroke="#8d95ab" stroke-width="0.8"/>
<circle cx="71.5" cy="552.0" r="1.8" fill="#e0519a" stroke="#b3246c" stroke-width="0.85"/>
<circle cx="81.5" cy="547.4" r="1.95" fill="#e2b447" stroke="#d0a23c" stroke-width="0.4"/>
<circle cx="79.8" cy="553.8" r="1.95" fill="#e2b447" stroke="#d0a23c" stroke-width="0.4"/>
<circle cx="105.2" cy="511.7" r="1.95" fill="#e2b447" stroke="#d0a23c" stroke-width="0.4"/>
<circle cx="130.6" cy="510.8" r="1.95" fill="#e2b447" stroke="#d0a23c" stroke-width="0.4"/>
<circle cx="113.8" cy="529.3" r="1.95" fill="#e2b447" stroke="#d0a23c" stroke-width="0.4"/>
<circle cx="113.6" cy="537.4" r="1.8" fill="#e0519a" stroke="#b3246c" stroke-width="0.85"/>
<circle cx="45.7" cy="533.4" r="1.55" fill="#3a3f52" stroke="#8d95ab" stroke-width="0.8"/>
<circle cx="44.8" cy="537.0" r="1.55" fill="#3a3f52" stroke="#8d95ab" stroke-width="0.8"/>
<circle cx="45.4" cy="540.7" r="1.55" fill="#3a3f52" stroke="#8d95ab" stroke-width="0.8"/>
<circle cx="45.1" cy="544.3" r="1.55" fill="#3a3f52" stroke="#8d95ab" stroke-width="0.8"/>
<circle cx="44.8" cy="547.9" r="1.55" fill="#3a3f52" stroke="#8d95ab" stroke-width="0.8"/>
<circle cx="47.5" cy="547.3" r="1.55" fill="#3a3f52" stroke="#8d95ab" stroke-width="0.8"/>
<circle cx="50.0" cy="547.9" r="1.55" fill="#3a3f52" stroke="#8d95ab" stroke-width="0.8"/>
<circle cx="54.2" cy="546.1" r="1.55" fill="#3a3f52" stroke="#8d95ab" stroke-width="0.8"/>
<circle cx="44.8" cy="550.9" r="1.55" fill="#3a3f52" stroke="#8d95ab" stroke-width="0.8"/>
<circle cx="47.5" cy="550.9" r="1.55" fill="#3a3f52" stroke="#8d95ab" stroke-width="0.8"/>
<circle cx="52.1" cy="552.1" r="1.55" fill="#3a3f52" stroke="#8d95ab" stroke-width="0.8"/>
<circle cx="54.5" cy="550.3" r="1.55" fill="#3a3f52" stroke="#8d95ab" stroke-width="0.8"/>
<circle cx="44.8" cy="553.9" r="1.55" fill="#3a3f52" stroke="#8d95ab" stroke-width="0.8"/>
<circle cx="47.8" cy="554.5" r="1.55" fill="#3a3f52" stroke="#8d95ab" stroke-width="0.8"/>
<circle cx="50.3" cy="553.9" r="1.55" fill="#3a3f52" stroke="#8d95ab" stroke-width="0.8"/>
<circle cx="52.1" cy="556.3" r="1.55" fill="#3a3f52" stroke="#8d95ab" stroke-width="0.8"/>
<circle cx="54.8" cy="555.7" r="1.55" fill="#3a3f52" stroke="#8d95ab" stroke-width="0.8"/>
<circle cx="45.1" cy="557.6" r="1.55" fill="#3a3f52" stroke="#8d95ab" stroke-width="0.8"/>
<circle cx="47.8" cy="558.2" r="1.55" fill="#3a3f52" stroke="#8d95ab" stroke-width="0.8"/>
<circle cx="50.3" cy="557.6" r="1.55" fill="#3a3f52" stroke="#8d95ab" stroke-width="0.8"/>
<circle cx="54.5" cy="558.8" r="1.55" fill="#3a3f52" stroke="#8d95ab" stroke-width="0.8"/>
<circle cx="44.8" cy="561.2" r="1.55" fill="#3a3f52" stroke="#8d95ab" stroke-width="0.8"/>
<circle cx="47.2" cy="560.9" r="1.55" fill="#3a3f52" stroke="#8d95ab" stroke-width="0.8"/>
<circle cx="50.0" cy="561.2" r="1.55" fill="#3a3f52" stroke="#8d95ab" stroke-width="0.8"/>
<circle cx="52.7" cy="560.9" r="1.55" fill="#3a3f52" stroke="#8d95ab" stroke-width="0.8"/>
<circle cx="55.1" cy="560.6" r="1.55" fill="#3a3f52" stroke="#8d95ab" stroke-width="0.8"/>
<line x1="44.90" y1="450.30" x2="44.90" y2="562.80" stroke="#231f20" stroke-width="1.2"/>
<line x1="44.30" y1="562.20" x2="163.20" y2="562.20" stroke="#231f20" stroke-width="1.2"/>
<line x1="41.90" y1="562.00" x2="44.90" y2="562.00" stroke="#231f20" stroke-width="1"/>
<text x="39.10" y="564.40" font-size="8.3" text-anchor="end" fill="#333333" textLength="4.15" lengthAdjust="spacingAndGlyphs" >0</text>
<line x1="41.90" y1="536.27" x2="44.90" y2="536.27" stroke="#231f20" stroke-width="1"/>
<text x="39.10" y="538.67" font-size="8.3" text-anchor="end" fill="#333333" textLength="14.54" lengthAdjust="spacingAndGlyphs" >23.5</text>
<line x1="41.90" y1="518.20" x2="44.90" y2="518.20" stroke="#231f20" stroke-width="1"/>
<text x="39.10" y="520.60" font-size="8.3" text-anchor="end" fill="#333333" textLength="8.31" lengthAdjust="spacingAndGlyphs" >40</text>
<line x1="41.90" y1="496.30" x2="44.90" y2="496.30" stroke="#231f20" stroke-width="1"/>
<text x="39.10" y="498.70" font-size="8.3" text-anchor="end" fill="#333333" textLength="8.31" lengthAdjust="spacingAndGlyphs" >60</text>
<line x1="41.90" y1="474.40" x2="44.90" y2="474.40" stroke="#231f20" stroke-width="1"/>
<text x="39.10" y="476.80" font-size="8.3" text-anchor="end" fill="#333333" textLength="8.31" lengthAdjust="spacingAndGlyphs" >80</text>
<line x1="41.90" y1="452.50" x2="44.90" y2="452.50" stroke="#231f20" stroke-width="1"/>
<text x="39.10" y="454.90" font-size="8.3" text-anchor="end" fill="#333333" textLength="12.46" lengthAdjust="spacingAndGlyphs" >100</text>
<line x1="44.90" y1="562.20" x2="44.90" y2="565.20" stroke="#231f20" stroke-width="1"/>
<text x="0.00" y="0.00" font-size="8.3" text-anchor="end" fill="#333333" textLength="4.15" lengthAdjust="spacingAndGlyphs" transform="translate(48.90,573.60) rotate(-45)" >0</text>
<line x1="57.20" y1="562.20" x2="57.20" y2="565.20" stroke="#231f20" stroke-width="1"/>
<text x="0.00" y="0.00" font-size="8.3" text-anchor="end" fill="#333333" textLength="10.38" lengthAdjust="spacingAndGlyphs" transform="translate(61.20,573.60) rotate(-45)" >5.3</text>
<line x1="68.10" y1="562.20" x2="68.10" y2="565.20" stroke="#231f20" stroke-width="1"/>
<text x="0.00" y="0.00" font-size="8.3" text-anchor="end" fill="#333333" textLength="8.31" lengthAdjust="spacingAndGlyphs" transform="translate(72.10,573.60) rotate(-45)" >10</text>
<line x1="91.30" y1="562.20" x2="91.30" y2="565.20" stroke="#231f20" stroke-width="1"/>
<text x="0.00" y="0.00" font-size="8.3" text-anchor="end" fill="#333333" textLength="8.31" lengthAdjust="spacingAndGlyphs" transform="translate(95.30,573.60) rotate(-45)" >20</text>
<line x1="114.50" y1="562.20" x2="114.50" y2="565.20" stroke="#231f20" stroke-width="1"/>
<text x="0.00" y="0.00" font-size="8.3" text-anchor="end" fill="#333333" textLength="8.31" lengthAdjust="spacingAndGlyphs" transform="translate(118.50,573.60) rotate(-45)" >30</text>
<line x1="137.70" y1="562.20" x2="137.70" y2="565.20" stroke="#231f20" stroke-width="1"/>
<text x="0.00" y="0.00" font-size="8.3" text-anchor="end" fill="#333333" textLength="8.31" lengthAdjust="spacingAndGlyphs" transform="translate(141.70,573.60) rotate(-45)" >40</text>
<line x1="160.90" y1="562.20" x2="160.90" y2="565.20" stroke="#231f20" stroke-width="1"/>
<text x="0.00" y="0.00" font-size="8.3" text-anchor="end" fill="#333333" textLength="8.31" lengthAdjust="spacingAndGlyphs" transform="translate(164.90,573.60) rotate(-45)" >50</text>
<text x="0" y="0" font-size="9.2" text-anchor="middle" fill="#333333" textLength="130.6" lengthAdjust="spacingAndGlyphs" transform="translate(18.70,505.90) rotate(-90)">P815 cells + anti-CD3 – ΔCD107a<tspan font-size="6.5" dy="-3.4">+</tspan><tspan dy="3.4"> </tspan>(%)</text>
<text x="104.00" y="598" font-size="9.2" text-anchor="middle" fill="#333333" textLength="91" lengthAdjust="spacingAndGlyphs">K562 cells – ΔCD107a<tspan font-size="6.5" dy="-3.4">+</tspan><tspan dy="3.4"> </tspan>(%)</text>
<text x="180.60" y="429.80" font-size="11.4" text-anchor="start" fill="#111" font-weight="bold" textLength="6.40" lengthAdjust="spacingAndGlyphs" stroke="#111" stroke-width="0.3">F</text>
<line x1="230.79" y1="453.50" x2="230.79" y2="562.20" stroke="#1e1e1e" stroke-width="1.0" stroke-dasharray="1.0 1.4"/>
<line x1="218.50" y1="548.31" x2="332.10" y2="548.31" stroke="#1e1e1e" stroke-width="1.0" stroke-dasharray="1.0 1.4"/>
<circle cx="236.0" cy="480.2" r="1.8" fill="#e0519a" stroke="#b3246c" stroke-width="0.85"/>
<circle cx="262.0" cy="477.9" r="1.95" fill="#e2b447" stroke="#d0a23c" stroke-width="0.4"/>
<circle cx="253.3" cy="489.4" r="1.8" fill="#e0519a" stroke="#b3246c" stroke-width="0.85"/>
<circle cx="266.0" cy="486.8" r="1.8" fill="#e0519a" stroke="#b3246c" stroke-width="0.85"/>
<circle cx="267.2" cy="488.8" r="1.55" fill="#3a3f52" stroke="#8d95ab" stroke-width="0.8"/>
<circle cx="263.4" cy="490.2" r="1.8" fill="#e0519a" stroke="#b3246c" stroke-width="0.85"/>
<circle cx="266.8" cy="496.3" r="1.95" fill="#e2b447" stroke="#d0a23c" stroke-width="0.4"/>
<circle cx="247.9" cy="498.3" r="1.8" fill="#e0519a" stroke="#b3246c" stroke-width="0.85"/>
<circle cx="246.1" cy="500.4" r="1.95" fill="#e2b447" stroke="#d0a23c" stroke-width="0.4"/>
<circle cx="248.7" cy="503.5" r="1.8" fill="#e0519a" stroke="#b3246c" stroke-width="0.85"/>
<circle cx="259.7" cy="503.5" r="1.95" fill="#e2b447" stroke="#d0a23c" stroke-width="0.4"/>
<circle cx="265.8" cy="503.2" r="1.95" fill="#e2b447" stroke="#d0a23c" stroke-width="0.4"/>
<circle cx="269.5" cy="503.2" r="1.8" fill="#e0519a" stroke="#b3246c" stroke-width="0.85"/>
<circle cx="275.6" cy="505.0" r="1.8" fill="#e0519a" stroke="#b3246c" stroke-width="0.85"/>
<circle cx="280.8" cy="469.0" r="1.95" fill="#e2b447" stroke="#d0a23c" stroke-width="0.4"/>
<circle cx="297.8" cy="477.1" r="1.8" fill="#e0519a" stroke="#b3246c" stroke-width="0.85"/>
<circle cx="278.7" cy="480.2" r="1.8" fill="#e0519a" stroke="#b3246c" stroke-width="0.85"/>
<circle cx="278.5" cy="483.7" r="1.95" fill="#e2b447" stroke="#d0a23c" stroke-width="0.4"/>
<circle cx="292.3" cy="484.0" r="1.8" fill="#e0519a" stroke="#b3246c" stroke-width="0.85"/>
<circle cx="295.8" cy="485.2" r="1.8" fill="#e0519a" stroke="#b3246c" stroke-width="0.85"/>
<circle cx="303.8" cy="483.3" r="1.95" fill="#e2b447" stroke="#d0a23c" stroke-width="0.4"/>
<circle cx="290.9" cy="491.7" r="1.8" fill="#e0519a" stroke="#b3246c" stroke-width="0.85"/>
<circle cx="306.7" cy="490.6" r="1.8" fill="#e0519a" stroke="#b3246c" stroke-width="0.85"/>
<circle cx="297.5" cy="495.2" r="1.8" fill="#e0519a" stroke="#b3246c" stroke-width="0.85"/>
<circle cx="305.0" cy="496.9" r="1.8" fill="#e0519a" stroke="#b3246c" stroke-width="0.85"/>
<circle cx="312.8" cy="496.0" r="1.8" fill="#e0519a" stroke="#b3246c" stroke-width="0.85"/>
<circle cx="279.8" cy="500.2" r="1.8" fill="#e0519a" stroke="#b3246c" stroke-width="0.85"/>
<circle cx="287.7" cy="502.0" r="1.95" fill="#e2b447" stroke="#d0a23c" stroke-width="0.4"/>
<circle cx="281.9" cy="505.3" r="1.8" fill="#e0519a" stroke="#b3246c" stroke-width="0.85"/>
<circle cx="241.2" cy="510.5" r="1.95" fill="#e2b447" stroke="#d0a23c" stroke-width="0.4"/>
<circle cx="244.1" cy="512.2" r="1.8" fill="#e0519a" stroke="#b3246c" stroke-width="0.85"/>
<circle cx="248.7" cy="510.8" r="1.95" fill="#e2b447" stroke="#d0a23c" stroke-width="0.4"/>
<circle cx="255.7" cy="511.7" r="1.8" fill="#e0519a" stroke="#b3246c" stroke-width="0.85"/>
<circle cx="263.2" cy="512.2" r="1.95" fill="#e2b447" stroke="#d0a23c" stroke-width="0.4"/>
<circle cx="252.8" cy="514.5" r="1.95" fill="#e2b447" stroke="#d0a23c" stroke-width="0.4"/>
<circle cx="238.9" cy="515.7" r="1.95" fill="#e2b447" stroke="#d0a23c" stroke-width="0.4"/>
<circle cx="243.5" cy="516.8" r="1.95" fill="#e2b447" stroke="#d0a23c" stroke-width="0.4"/>
<circle cx="245.8" cy="518.0" r="1.8" fill="#e0519a" stroke="#b3246c" stroke-width="0.85"/>
<circle cx="248.7" cy="519.2" r="1.95" fill="#e2b447" stroke="#d0a23c" stroke-width="0.4"/>
<circle cx="253.9" cy="516.8" r="1.95" fill="#e2b447" stroke="#d0a23c" stroke-width="0.4"/>
<circle cx="258.0" cy="516.6" r="1.8" fill="#e0519a" stroke="#b3246c" stroke-width="0.85"/>
<circle cx="255.1" cy="519.2" r="1.8" fill="#e0519a" stroke="#b3246c" stroke-width="0.85"/>
<circle cx="263.2" cy="516.8" r="1.8" fill="#e0519a" stroke="#b3246c" stroke-width="0.85"/>
<circle cx="266.6" cy="515.7" r="1.95" fill="#e2b447" stroke="#d0a23c" stroke-width="0.4"/>
<circle cx="265.5" cy="519.2" r="1.95" fill="#e2b447" stroke="#d0a23c" stroke-width="0.4"/>
<circle cx="268.3" cy="518.6" r="1.8" fill="#e0519a" stroke="#b3246c" stroke-width="0.85"/>
<circle cx="271.8" cy="519.2" r="1.95" fill="#e2b447" stroke="#d0a23c" stroke-width="0.4"/>
<circle cx="275.8" cy="517.0" r="1.8" fill="#e0519a" stroke="#b3246c" stroke-width="0.85"/>
<circle cx="275.7" cy="520.3" r="1.8" fill="#e0519a" stroke="#b3246c" stroke-width="0.85"/>
<circle cx="226.2" cy="519.7" r="1.8" fill="#e0519a" stroke="#b3246c" stroke-width="0.85"/>
<circle cx="221.6" cy="522.0" r="1.8" fill="#e0519a" stroke="#b3246c" stroke-width="0.85"/>
<circle cx="225.7" cy="523.8" r="1.8" fill="#e0519a" stroke="#b3246c" stroke-width="0.85"/>
<circle cx="220.5" cy="525.5" r="1.8" fill="#e0519a" stroke="#b3246c" stroke-width="0.85"/>
<circle cx="222.8" cy="526.7" r="1.8" fill="#e0519a" stroke="#b3246c" stroke-width="0.85"/>
<circle cx="230.8" cy="519.7" r="1.95" fill="#e2b447" stroke="#d0a23c" stroke-width="0.4"/>
<circle cx="236.0" cy="519.2" r="1.95" fill="#e2b447" stroke="#d0a23c" stroke-width="0.4"/>
<circle cx="239.5" cy="522.6" r="1.8" fill="#e0519a" stroke="#b3246c" stroke-width="0.85"/>
<circle cx="243.5" cy="522.0" r="1.95" fill="#e2b447" stroke="#d0a23c" stroke-width="0.4"/>
<circle cx="246.4" cy="523.8" r="1.95" fill="#e2b447" stroke="#d0a23c" stroke-width="0.4"/>
<circle cx="248.2" cy="526.1" r="1.95" fill="#e2b447" stroke="#d0a23c" stroke-width="0.4"/>
<circle cx="252.8" cy="523.2" r="1.95" fill="#e2b447" stroke="#d0a23c" stroke-width="0.4"/>
<circle cx="253.9" cy="525.5" r="1.8" fill="#e0519a" stroke="#b3246c" stroke-width="0.85"/>
<circle cx="264.3" cy="524.3" r="1.8" fill="#e0519a" stroke="#b3246c" stroke-width="0.85"/>
<circle cx="264.3" cy="527.2" r="1.95" fill="#e2b447" stroke="#d0a23c" stroke-width="0.4"/>
<circle cx="237.2" cy="526.7" r="1.95" fill="#e2b447" stroke="#d0a23c" stroke-width="0.4"/>
<circle cx="235.5" cy="529.0" r="1.8" fill="#e0519a" stroke="#b3246c" stroke-width="0.85"/>
<circle cx="237.2" cy="531.8" r="1.8" fill="#e0519a" stroke="#b3246c" stroke-width="0.85"/>
<circle cx="246.4" cy="530.1" r="1.8" fill="#e0519a" stroke="#b3246c" stroke-width="0.85"/>
<circle cx="252.8" cy="529.5" r="1.95" fill="#e2b447" stroke="#d0a23c" stroke-width="0.4"/>
<circle cx="230.3" cy="530.7" r="1.95" fill="#e2b447" stroke="#d0a23c" stroke-width="0.4"/>
<circle cx="227.4" cy="533.6" r="1.95" fill="#e2b447" stroke="#d0a23c" stroke-width="0.4"/>
<circle cx="232.0" cy="533.9" r="1.8" fill="#e0519a" stroke="#b3246c" stroke-width="0.85"/>
<circle cx="247.6" cy="533.6" r="1.95" fill="#e2b447" stroke="#d0a23c" stroke-width="0.4"/>
<circle cx="258.0" cy="532.4" r="1.95" fill="#e2b447" stroke="#d0a23c" stroke-width="0.4"/>
<circle cx="253.9" cy="535.3" r="1.95" fill="#e2b447" stroke="#d0a23c" stroke-width="0.4"/>
<circle cx="236.0" cy="535.9" r="1.55" fill="#3a3f52" stroke="#8d95ab" stroke-width="0.8"/>
<circle cx="241.2" cy="535.9" r="1.55" fill="#3a3f52" stroke="#8d95ab" stroke-width="0.8"/>
<circle cx="242.4" cy="538.8" r="1.8" fill="#e0519a" stroke="#b3246c" stroke-width="0.85"/>
<circle cx="231.4" cy="539.9" r="1.8" fill="#e0519a" stroke="#b3246c" stroke-width="0.85"/>
<circle cx="236.0" cy="541.1" r="1.55" fill="#3a3f52" stroke="#8d95ab" stroke-width="0.8"/>
<circle cx="246.4" cy="541.1" r="1.95" fill="#e2b447" stroke="#d0a23c" stroke-width="0.4"/>
<circle cx="251.0" cy="539.9" r="1.95" fill="#e2b447" stroke="#d0a23c" stroke-width="0.4"/>
<circle cx="255.1" cy="539.9" r="1.95" fill="#e2b447" stroke="#d0a23c" stroke-width="0.4"/>
<circle cx="260.3" cy="540.5" r="1.8" fill="#e0519a" stroke="#b3246c" stroke-width="0.85"/>
<circle cx="247.6" cy="543.4" r="1.95" fill="#e2b447" stroke="#d0a23c" stroke-width="0.4"/>
<circle cx="222.5" cy="543.2" r="1.8" fill="#e0519a" stroke="#b3246c" stroke-width="0.85"/>
<circle cx="232.5" cy="545.6" r="1.95" fill="#e2b447" stroke="#d0a23c" stroke-width="0.4"/>
<circle cx="239.8" cy="545.3" r="1.8" fill="#e0519a" stroke="#b3246c" stroke-width="0.85"/>
<circle cx="255.1" cy="548.4" r="1.95" fill="#e2b447" stroke="#d0a23c" stroke-width="0.4"/>
<circle cx="234.4" cy="550.1" r="1.55" fill="#3a3f52" stroke="#8d95ab" stroke-width="0.8"/>
<circle cx="239.5" cy="549.8" r="1.55" fill="#3a3f52" stroke="#8d95ab" stroke-width="0.8"/>
<circle cx="244.7" cy="554.9" r="1.8" fill="#e0519a" stroke="#b3246c" stroke-width="0.85"/>
<circle cx="234.2" cy="558.7" r="1.55" fill="#3a3f52" stroke="#8d95ab" stroke-width="0.8"/>
<circle cx="217.8" cy="545.5" r="1.95" fill="#e2b447" stroke="#d0a23c" stroke-width="0.4"/>
<circle cx="225.8" cy="546.5" r="1.55" fill="#3a3f52" stroke="#8d95ab" stroke-width="0.8"/>
<circle cx="220.5" cy="548.5" r="1.55" fill="#3a3f52" stroke="#8d95ab" stroke-width="0.8"/>
<circle cx="225.3" cy="548.8" r="1.55" fill="#3a3f52" stroke="#8d95ab" stroke-width="0.8"/>
<circle cx="228.0" cy="550.0" r="1.55" fill="#3a3f52" stroke="#8d95ab" stroke-width="0.8"/>
<circle cx="218.5" cy="551.5" r="1.55" fill="#3a3f52" stroke="#8d95ab" stroke-width="0.8"/>
<circle cx="223.0" cy="552.0" r="1.55" fill="#3a3f52" stroke="#8d95ab" stroke-width="0.8"/>
<circle cx="226.0" cy="552.5" r="1.55" fill="#3a3f52" stroke="#8d95ab" stroke-width="0.8"/>
<circle cx="235.5" cy="552.5" r="1.55" fill="#3a3f52" stroke="#8d95ab" stroke-width="0.8"/>
<circle cx="230.5" cy="555.0" r="1.55" fill="#3a3f52" stroke="#8d95ab" stroke-width="0.8"/>
<circle cx="220.0" cy="555.0" r="1.55" fill="#3a3f52" stroke="#8d95ab" stroke-width="0.8"/>
<circle cx="228.0" cy="553.5" r="1.55" fill="#3a3f52" stroke="#8d95ab" stroke-width="0.8"/>
<circle cx="221.0" cy="557.0" r="1.55" fill="#3a3f52" stroke="#8d95ab" stroke-width="0.8"/>
<circle cx="225.0" cy="556.5" r="1.55" fill="#3a3f52" stroke="#8d95ab" stroke-width="0.8"/>
<circle cx="228.0" cy="557.0" r="1.55" fill="#3a3f52" stroke="#8d95ab" stroke-width="0.8"/>
<circle cx="218.3" cy="559.0" r="1.55" fill="#3a3f52" stroke="#8d95ab" stroke-width="0.8"/>
<circle cx="226.0" cy="559.0" r="1.55" fill="#3a3f52" stroke="#8d95ab" stroke-width="0.8"/>
<circle cx="222.5" cy="562.0" r="1.55" fill="#3a3f52" stroke="#8d95ab" stroke-width="0.8"/>
<circle cx="218.5" cy="562.5" r="1.55" fill="#3a3f52" stroke="#8d95ab" stroke-width="0.8"/>
<circle cx="231.0" cy="548.0" r="1.55" fill="#3a3f52" stroke="#8d95ab" stroke-width="0.8"/>
<circle cx="222.0" cy="545.8" r="1.55" fill="#3a3f52" stroke="#8d95ab" stroke-width="0.8"/>
<circle cx="229.5" cy="546.0" r="1.55" fill="#3a3f52" stroke="#8d95ab" stroke-width="0.8"/>
<circle cx="232.0" cy="558.5" r="1.55" fill="#3a3f52" stroke="#8d95ab" stroke-width="0.8"/>
<circle cx="230.0" cy="561.5" r="1.55" fill="#3a3f52" stroke="#8d95ab" stroke-width="0.8"/>
<circle cx="236.5" cy="555.5" r="1.55" fill="#3a3f52" stroke="#8d95ab" stroke-width="0.8"/>
<circle cx="226.5" cy="562.3" r="1.55" fill="#3a3f52" stroke="#8d95ab" stroke-width="0.8"/>
<circle cx="233.0" cy="552.8" r="1.55" fill="#3a3f52" stroke="#8d95ab" stroke-width="0.8"/>
<circle cx="304.1" cy="509.3" r="1.95" fill="#e2b447" stroke="#d0a23c" stroke-width="0.4"/>
<circle cx="279.0" cy="515.1" r="1.8" fill="#e0519a" stroke="#b3246c" stroke-width="0.85"/>
<circle cx="284.2" cy="515.5" r="1.95" fill="#e2b447" stroke="#d0a23c" stroke-width="0.4"/>
<circle cx="290.0" cy="517.1" r="1.95" fill="#e2b447" stroke="#d0a23c" stroke-width="0.4"/>
<circle cx="286.8" cy="520.9" r="1.8" fill="#e0519a" stroke="#b3246c" stroke-width="0.85"/>
<circle cx="283.7" cy="524.9" r="1.8" fill="#e0519a" stroke="#b3246c" stroke-width="0.85"/>
<circle cx="287.5" cy="533.6" r="1.95" fill="#e2b447" stroke="#d0a23c" stroke-width="0.4"/>
<line x1="218.50" y1="450.30" x2="218.50" y2="562.80" stroke="#231f20" stroke-width="1.2"/>
<line x1="217.90" y1="562.20" x2="336.50" y2="562.20" stroke="#231f20" stroke-width="1.2"/>
<line x1="215.50" y1="562.00" x2="218.50" y2="562.00" stroke="#231f20" stroke-width="1"/>
<text x="212.70" y="564.40" font-size="8.3" text-anchor="end" fill="#333333" textLength="4.15" lengthAdjust="spacingAndGlyphs" >0</text>
<line x1="215.50" y1="548.31" x2="218.50" y2="548.31" stroke="#231f20" stroke-width="1"/>
<text x="212.70" y="550.71" font-size="8.3" text-anchor="end" fill="#333333" textLength="14.54" lengthAdjust="spacingAndGlyphs" >12.5</text>
<line x1="215.50" y1="540.10" x2="218.50" y2="540.10" stroke="#231f20" stroke-width="1"/>
<text x="212.70" y="542.50" font-size="8.3" text-anchor="end" fill="#333333" textLength="8.31" lengthAdjust="spacingAndGlyphs" >20</text>
<line x1="215.50" y1="518.20" x2="218.50" y2="518.20" stroke="#231f20" stroke-width="1"/>
<text x="212.70" y="520.60" font-size="8.3" text-anchor="end" fill="#333333" textLength="8.31" lengthAdjust="spacingAndGlyphs" >40</text>
<line x1="215.50" y1="496.30" x2="218.50" y2="496.30" stroke="#231f20" stroke-width="1"/>
<text x="212.70" y="498.70" font-size="8.3" text-anchor="end" fill="#333333" textLength="8.31" lengthAdjust="spacingAndGlyphs" >60</text>
<line x1="215.50" y1="474.40" x2="218.50" y2="474.40" stroke="#231f20" stroke-width="1"/>
<text x="212.70" y="476.80" font-size="8.3" text-anchor="end" fill="#333333" textLength="8.31" lengthAdjust="spacingAndGlyphs" >80</text>
<line x1="215.50" y1="452.50" x2="218.50" y2="452.50" stroke="#231f20" stroke-width="1"/>
<text x="212.70" y="454.90" font-size="8.3" text-anchor="end" fill="#333333" textLength="12.46" lengthAdjust="spacingAndGlyphs" >100</text>
<line x1="218.50" y1="562.20" x2="218.50" y2="565.20" stroke="#231f20" stroke-width="1"/>
<text x="0.00" y="0.00" font-size="8.3" text-anchor="end" fill="#333333" textLength="4.15" lengthAdjust="spacingAndGlyphs" transform="translate(222.50,573.60) rotate(-45)" >0</text>
<line x1="230.79" y1="562.20" x2="230.79" y2="565.20" stroke="#231f20" stroke-width="1"/>
<text x="0.00" y="0.00" font-size="8.3" text-anchor="end" fill="#333333" textLength="10.38" lengthAdjust="spacingAndGlyphs" transform="translate(234.79,573.60) rotate(-45)" >5.3</text>
<line x1="241.68" y1="562.20" x2="241.68" y2="565.20" stroke="#231f20" stroke-width="1"/>
<text x="0.00" y="0.00" font-size="8.3" text-anchor="end" fill="#333333" textLength="8.31" lengthAdjust="spacingAndGlyphs" transform="translate(245.68,573.60) rotate(-45)" >10</text>
<line x1="264.86" y1="562.20" x2="264.86" y2="565.20" stroke="#231f20" stroke-width="1"/>
<text x="0.00" y="0.00" font-size="8.3" text-anchor="end" fill="#333333" textLength="8.31" lengthAdjust="spacingAndGlyphs" transform="translate(268.86,573.60) rotate(-45)" >20</text>
<line x1="288.04" y1="562.20" x2="288.04" y2="565.20" stroke="#231f20" stroke-width="1"/>
<text x="0.00" y="0.00" font-size="8.3" text-anchor="end" fill="#333333" textLength="8.31" lengthAdjust="spacingAndGlyphs" transform="translate(292.04,573.60) rotate(-45)" >30</text>
<line x1="311.22" y1="562.20" x2="311.22" y2="565.20" stroke="#231f20" stroke-width="1"/>
<text x="0.00" y="0.00" font-size="8.3" text-anchor="end" fill="#333333" textLength="8.31" lengthAdjust="spacingAndGlyphs" transform="translate(315.22,573.60) rotate(-45)" >40</text>
<line x1="334.40" y1="562.20" x2="334.40" y2="565.20" stroke="#231f20" stroke-width="1"/>
<text x="0.00" y="0.00" font-size="8.3" text-anchor="end" fill="#333333" textLength="8.31" lengthAdjust="spacingAndGlyphs" transform="translate(338.40,573.60) rotate(-45)" >50</text>
<text x="0" y="0" font-size="9.2" text-anchor="middle" fill="#333333" textLength="133.5" lengthAdjust="spacingAndGlyphs" transform="translate(191.40,505.90) rotate(-90)">P815 cells + anti-CD16 – ΔCD107a<tspan font-size="6.5" dy="-3.4">+</tspan><tspan dy="3.4"> </tspan>(%)</text>
<text x="277.60" y="598" font-size="9.2" text-anchor="middle" fill="#333333" textLength="92" lengthAdjust="spacingAndGlyphs">K562 cells – ΔCD107a<tspan font-size="6.5" dy="-3.4">+</tspan><tspan dy="3.4"> </tspan>(%)</text>
<text x="353.60" y="429.80" font-size="11.4" text-anchor="start" fill="#111" font-weight="bold" textLength="9.00" lengthAdjust="spacingAndGlyphs" stroke="#111" stroke-width="0.3">G</text>
<line x1="419.20" y1="453.50" x2="419.20" y2="562.20" stroke="#1e1e1e" stroke-width="1.0" stroke-dasharray="1.0 1.4"/>
<line x1="392.20" y1="548.31" x2="505.00" y2="548.31" stroke="#1e1e1e" stroke-width="1.0" stroke-dasharray="1.0 1.4"/>
<circle cx="445.2" cy="483.7" r="1.95" fill="#e2b447" stroke="#d0a23c" stroke-width="0.4"/>
<circle cx="439.8" cy="489.8" r="1.8" fill="#e0519a" stroke="#b3246c" stroke-width="0.85"/>
<circle cx="441.7" cy="488.8" r="1.55" fill="#3a3f52" stroke="#8d95ab" stroke-width="0.8"/>
<circle cx="426.3" cy="496.9" r="1.95" fill="#e2b447" stroke="#d0a23c" stroke-width="0.4"/>
<circle cx="440.9" cy="505.5" r="1.8" fill="#e0519a" stroke="#b3246c" stroke-width="0.85"/>
<circle cx="463.0" cy="469.0" r="1.95" fill="#e2b447" stroke="#d0a23c" stroke-width="0.4"/>
<circle cx="463.2" cy="477.1" r="1.8" fill="#e0519a" stroke="#b3246c" stroke-width="0.85"/>
<circle cx="486.3" cy="477.9" r="1.95" fill="#e2b447" stroke="#d0a23c" stroke-width="0.4"/>
<circle cx="473.2" cy="479.6" r="1.8" fill="#e0519a" stroke="#b3246c" stroke-width="0.85"/>
<circle cx="477.4" cy="480.2" r="1.8" fill="#e0519a" stroke="#b3246c" stroke-width="0.85"/>
<circle cx="470.5" cy="483.7" r="1.8" fill="#e0519a" stroke="#b3246c" stroke-width="0.85"/>
<circle cx="474.3" cy="483.7" r="1.95" fill="#e2b447" stroke="#d0a23c" stroke-width="0.4"/>
<circle cx="480.1" cy="484.2" r="1.8" fill="#e0519a" stroke="#b3246c" stroke-width="0.85"/>
<circle cx="491.6" cy="484.8" r="1.8" fill="#e0519a" stroke="#b3246c" stroke-width="0.85"/>
<circle cx="462.8" cy="486.5" r="1.8" fill="#e0519a" stroke="#b3246c" stroke-width="0.85"/>
<circle cx="465.9" cy="490.0" r="1.8" fill="#e0519a" stroke="#b3246c" stroke-width="0.85"/>
<circle cx="459.0" cy="490.6" r="1.8" fill="#e0519a" stroke="#b3246c" stroke-width="0.85"/>
<circle cx="484.7" cy="491.2" r="1.8" fill="#e0519a" stroke="#b3246c" stroke-width="0.85"/>
<circle cx="487.0" cy="495.5" r="1.8" fill="#e0519a" stroke="#b3246c" stroke-width="0.85"/>
<circle cx="454.3" cy="495.8" r="1.8" fill="#e0519a" stroke="#b3246c" stroke-width="0.85"/>
<circle cx="466.2" cy="496.9" r="1.8" fill="#e0519a" stroke="#b3246c" stroke-width="0.85"/>
<circle cx="465.1" cy="498.7" r="1.8" fill="#e0519a" stroke="#b3246c" stroke-width="0.85"/>
<circle cx="460.7" cy="499.8" r="1.8" fill="#e0519a" stroke="#b3246c" stroke-width="0.85"/>
<circle cx="458.4" cy="501.5" r="1.95" fill="#e2b447" stroke="#d0a23c" stroke-width="0.4"/>
<circle cx="454.9" cy="502.1" r="1.95" fill="#e2b447" stroke="#d0a23c" stroke-width="0.4"/>
<circle cx="451.2" cy="503.7" r="1.95" fill="#e2b447" stroke="#d0a23c" stroke-width="0.4"/>
<circle cx="475.1" cy="501.8" r="1.95" fill="#e2b447" stroke="#d0a23c" stroke-width="0.4"/>
<circle cx="468.2" cy="504.2" r="1.8" fill="#e0519a" stroke="#b3246c" stroke-width="0.85"/>
<circle cx="485.5" cy="504.0" r="1.95" fill="#e2b447" stroke="#d0a23c" stroke-width="0.4"/>
<circle cx="479.4" cy="505.7" r="1.8" fill="#e0519a" stroke="#b3246c" stroke-width="0.85"/>
<circle cx="462.4" cy="505.2" r="1.8" fill="#e0519a" stroke="#b3246c" stroke-width="0.85"/>
<circle cx="400.2" cy="522.8" r="1.95" fill="#e2b447" stroke="#d0a23c" stroke-width="0.4"/>
<circle cx="445.6" cy="509.9" r="1.95" fill="#e2b447" stroke="#d0a23c" stroke-width="0.4"/>
<circle cx="425.2" cy="519.4" r="1.95" fill="#e2b447" stroke="#d0a23c" stroke-width="0.4"/>
<circle cx="417.9" cy="521.2" r="1.8" fill="#e0519a" stroke="#b3246c" stroke-width="0.85"/>
<circle cx="430.4" cy="523.5" r="1.8" fill="#e0519a" stroke="#b3246c" stroke-width="0.85"/>
<circle cx="437.9" cy="520.9" r="1.8" fill="#e0519a" stroke="#b3246c" stroke-width="0.85"/>
<circle cx="438.5" cy="524.9" r="1.95" fill="#e2b447" stroke="#d0a23c" stroke-width="0.4"/>
<circle cx="441.3" cy="523.8" r="1.8" fill="#e0519a" stroke="#b3246c" stroke-width="0.85"/>
<circle cx="444.2" cy="519.2" r="1.95" fill="#e2b447" stroke="#d0a23c" stroke-width="0.4"/>
<circle cx="448.7" cy="516.2" r="1.95" fill="#e2b447" stroke="#d0a23c" stroke-width="0.4"/>
<circle cx="450.0" cy="519.8" r="1.8" fill="#e0519a" stroke="#b3246c" stroke-width="0.85"/>
<circle cx="444.2" cy="526.1" r="1.95" fill="#e2b447" stroke="#d0a23c" stroke-width="0.4"/>
<circle cx="449.2" cy="526.7" r="1.8" fill="#e0519a" stroke="#b3246c" stroke-width="0.85"/>
<circle cx="420.2" cy="527.5" r="1.8" fill="#e0519a" stroke="#b3246c" stroke-width="0.85"/>
<circle cx="435.0" cy="527.8" r="1.8" fill="#e0519a" stroke="#b3246c" stroke-width="0.85"/>
<circle cx="438.2" cy="529.5" r="1.8" fill="#e0519a" stroke="#b3246c" stroke-width="0.85"/>
<circle cx="435.6" cy="532.4" r="1.8" fill="#e0519a" stroke="#b3246c" stroke-width="0.85"/>
<circle cx="420.9" cy="533.6" r="1.95" fill="#e2b447" stroke="#d0a23c" stroke-width="0.4"/>
<circle cx="424.6" cy="534.4" r="1.8" fill="#e0519a" stroke="#b3246c" stroke-width="0.85"/>
<circle cx="426.7" cy="533.6" r="1.95" fill="#e2b447" stroke="#d0a23c" stroke-width="0.4"/>
<circle cx="440.8" cy="534.2" r="1.95" fill="#e2b447" stroke="#d0a23c" stroke-width="0.4"/>
<circle cx="445.4" cy="533.6" r="1.8" fill="#e0519a" stroke="#b3246c" stroke-width="0.85"/>
<circle cx="439.4" cy="537.0" r="1.55" fill="#3a3f52" stroke="#8d95ab" stroke-width="0.8"/>
<circle cx="448.5" cy="538.8" r="1.8" fill="#e0519a" stroke="#b3246c" stroke-width="0.85"/>
<circle cx="429.2" cy="538.8" r="1.8" fill="#e0519a" stroke="#b3246c" stroke-width="0.85"/>
<circle cx="430.4" cy="541.1" r="1.8" fill="#e0519a" stroke="#b3246c" stroke-width="0.85"/>
<circle cx="439.6" cy="542.2" r="1.95" fill="#e2b447" stroke="#d0a23c" stroke-width="0.4"/>
<circle cx="441.9" cy="541.1" r="1.95" fill="#e2b447" stroke="#d0a23c" stroke-width="0.4"/>
<circle cx="419.8" cy="540.2" r="1.95" fill="#e2b447" stroke="#d0a23c" stroke-width="0.4"/>
<circle cx="417.7" cy="543.4" r="1.8" fill="#e0519a" stroke="#b3246c" stroke-width="0.85"/>
<circle cx="417.5" cy="546.6" r="1.8" fill="#e0519a" stroke="#b3246c" stroke-width="0.85"/>
<circle cx="421.2" cy="546.3" r="1.95" fill="#e2b447" stroke="#d0a23c" stroke-width="0.4"/>
<circle cx="412.5" cy="535.9" r="1.55" fill="#3a3f52" stroke="#8d95ab" stroke-width="0.8"/>
<circle cx="407.1" cy="541.1" r="1.55" fill="#3a3f52" stroke="#8d95ab" stroke-width="0.8"/>
<circle cx="401.0" cy="543.4" r="1.55" fill="#3a3f52" stroke="#8d95ab" stroke-width="0.8"/>
<circle cx="406.2" cy="546.8" r="1.55" fill="#3a3f52" stroke="#8d95ab" stroke-width="0.8"/>
<circle cx="410.8" cy="547.4" r="1.55" fill="#3a3f52" stroke="#8d95ab" stroke-width="0.8"/>
<circle cx="403.3" cy="548.6" r="1.55" fill="#3a3f52" stroke="#8d95ab" stroke-width="0.8"/>
<circle cx="407.9" cy="550.3" r="1.55" fill="#3a3f52" stroke="#8d95ab" stroke-width="0.8"/>
<circle cx="414.2" cy="551.5" r="1.55" fill="#3a3f52" stroke="#8d95ab" stroke-width="0.8"/>
<circle cx="421.7" cy="552.0" r="1.55" fill="#3a3f52" stroke="#8d95ab" stroke-width="0.8"/>
<circle cx="434.4" cy="553.8" r="1.55" fill="#3a3f52" stroke="#8d95ab" stroke-width="0.8"/>
<circle cx="433.8" cy="556.1" r="1.55" fill="#3a3f52" stroke="#8d95ab" stroke-width="0.8"/>
<circle cx="418.3" cy="558.4" r="1.55" fill="#3a3f52" stroke="#8d95ab" stroke-width="0.8"/>
<circle cx="429.8" cy="559.5" r="1.55" fill="#3a3f52" stroke="#8d95ab" stroke-width="0.8"/>
<circle cx="459.5" cy="505.9" r="1.95" fill="#e2b447" stroke="#d0a23c" stroke-width="0.4"/>
<circle cx="468.2" cy="507.6" r="1.8" fill="#e0519a" stroke="#b3246c" stroke-width="0.85"/>
<circle cx="479.7" cy="506.5" r="1.8" fill="#e0519a" stroke="#b3246c" stroke-width="0.85"/>
<circle cx="453.8" cy="512.8" r="1.8" fill="#e0519a" stroke="#b3246c" stroke-width="0.85"/>
<circle cx="458.4" cy="511.7" r="1.8" fill="#e0519a" stroke="#b3246c" stroke-width="0.85"/>
<circle cx="460.7" cy="514.0" r="1.95" fill="#e2b447" stroke="#d0a23c" stroke-width="0.4"/>
<circle cx="472.2" cy="511.7" r="1.95" fill="#e2b447" stroke="#d0a23c" stroke-width="0.4"/>
<circle cx="468.2" cy="516.3" r="1.95" fill="#e2b447" stroke="#d0a23c" stroke-width="0.4"/>
<circle cx="472.8" cy="516.3" r="1.8" fill="#e0519a" stroke="#b3246c" stroke-width="0.85"/>
<circle cx="476.3" cy="515.7" r="1.95" fill="#e2b447" stroke="#d0a23c" stroke-width="0.4"/>
<circle cx="471.7" cy="519.2" r="1.8" fill="#e0519a" stroke="#b3246c" stroke-width="0.85"/>
<circle cx="482.4" cy="516.8" r="1.8" fill="#e0519a" stroke="#b3246c" stroke-width="0.85"/>
<circle cx="454.9" cy="518.0" r="1.95" fill="#e2b447" stroke="#d0a23c" stroke-width="0.4"/>
<circle cx="459.5" cy="518.0" r="1.95" fill="#e2b447" stroke="#d0a23c" stroke-width="0.4"/>
<circle cx="454.3" cy="524.3" r="1.95" fill="#e2b447" stroke="#d0a23c" stroke-width="0.4"/>
<circle cx="459.5" cy="522.6" r="1.8" fill="#e0519a" stroke="#b3246c" stroke-width="0.85"/>
<circle cx="465.9" cy="524.3" r="1.8" fill="#e0519a" stroke="#b3246c" stroke-width="0.85"/>
<circle cx="470.5" cy="523.8" r="1.95" fill="#e2b447" stroke="#d0a23c" stroke-width="0.4"/>
<circle cx="461.8" cy="527.8" r="1.95" fill="#e2b447" stroke="#d0a23c" stroke-width="0.4"/>
<circle cx="465.9" cy="530.7" r="1.95" fill="#e2b447" stroke="#d0a23c" stroke-width="0.4"/>
<circle cx="471.7" cy="531.8" r="1.8" fill="#e0519a" stroke="#b3246c" stroke-width="0.85"/>
<circle cx="462.4" cy="532.4" r="1.95" fill="#e2b447" stroke="#d0a23c" stroke-width="0.4"/>
<circle cx="449.2" cy="534.2" r="1.95" fill="#e2b447" stroke="#d0a23c" stroke-width="0.4"/>
<circle cx="454.9" cy="533.0" r="1.95" fill="#e2b447" stroke="#d0a23c" stroke-width="0.4"/>
<circle cx="452.6" cy="535.9" r="1.95" fill="#e2b447" stroke="#d0a23c" stroke-width="0.4"/>
<circle cx="460.1" cy="535.9" r="1.8" fill="#e0519a" stroke="#b3246c" stroke-width="0.85"/>
<circle cx="456.1" cy="537.6" r="1.8" fill="#e0519a" stroke="#b3246c" stroke-width="0.85"/>
<circle cx="468.2" cy="540.2" r="1.8" fill="#e0519a" stroke="#b3246c" stroke-width="0.85"/>
<circle cx="464.7" cy="545.1" r="1.95" fill="#e2b447" stroke="#d0a23c" stroke-width="0.4"/>
<circle cx="459.0" cy="546.8" r="1.95" fill="#e2b447" stroke="#d0a23c" stroke-width="0.4"/>
<circle cx="470.5" cy="545.1" r="1.95" fill="#e2b447" stroke="#d0a23c" stroke-width="0.4"/>
<circle cx="472.8" cy="545.9" r="1.8" fill="#e0519a" stroke="#b3246c" stroke-width="0.85"/>
<circle cx="464.7" cy="551.2" r="1.95" fill="#e2b447" stroke="#d0a23c" stroke-width="0.4"/>
<circle cx="411.5" cy="552.3" r="1.55" fill="#3a3f52" stroke="#8d95ab" stroke-width="0.8"/>
<circle cx="415.7" cy="549.9" r="1.55" fill="#3a3f52" stroke="#8d95ab" stroke-width="0.8"/>
<circle cx="415.0" cy="554.4" r="1.55" fill="#3a3f52" stroke="#8d95ab" stroke-width="0.8"/>
<circle cx="394.2" cy="552.3" r="1.55" fill="#3a3f52" stroke="#8d95ab" stroke-width="0.8"/>
<circle cx="398.0" cy="552.3" r="1.55" fill="#3a3f52" stroke="#8d95ab" stroke-width="0.8"/>
<circle cx="401.2" cy="553.0" r="1.55" fill="#3a3f52" stroke="#8d95ab" stroke-width="0.8"/>
<circle cx="404.6" cy="552.3" r="1.55" fill="#3a3f52" stroke="#8d95ab" stroke-width="0.8"/>
<circle cx="394.2" cy="556.1" r="1.55" fill="#3a3f52" stroke="#8d95ab" stroke-width="0.8"/>
<circle cx="397.0" cy="556.4" r="1.55" fill="#3a3f52" stroke="#8d95ab" stroke-width="0.8"/>
<circle cx="400.1" cy="556.1" r="1.55" fill="#3a3f52" stroke="#8d95ab" stroke-width="0.8"/>
<circle cx="403.6" cy="555.7" r="1.55" fill="#3a3f52" stroke="#8d95ab" stroke-width="0.8"/>
<circle cx="406.4" cy="556.1" r="1.55" fill="#3a3f52" stroke="#8d95ab" stroke-width="0.8"/>
<circle cx="392.2" cy="558.9" r="1.55" fill="#3a3f52" stroke="#8d95ab" stroke-width="0.8"/>
<circle cx="396.3" cy="558.9" r="1.55" fill="#3a3f52" stroke="#8d95ab" stroke-width="0.8"/>
<circle cx="399.8" cy="559.9" r="1.55" fill="#3a3f52" stroke="#8d95ab" stroke-width="0.8"/>
<circle cx="406.7" cy="559.5" r="1.55" fill="#3a3f52" stroke="#8d95ab" stroke-width="0.8"/>
<circle cx="395.6" cy="562.0" r="1.55" fill="#3a3f52" stroke="#8d95ab" stroke-width="0.8"/>
<circle cx="403.9" cy="562.0" r="1.55" fill="#3a3f52" stroke="#8d95ab" stroke-width="0.8"/>
<circle cx="412.6" cy="562.0" r="1.55" fill="#3a3f52" stroke="#8d95ab" stroke-width="0.8"/>
<circle cx="393.5" cy="549.5" r="1.55" fill="#3a3f52" stroke="#8d95ab" stroke-width="0.8"/>
<circle cx="397.5" cy="549.0" r="1.55" fill="#3a3f52" stroke="#8d95ab" stroke-width="0.8"/>
<circle cx="401.0" cy="548.0" r="1.55" fill="#3a3f52" stroke="#8d95ab" stroke-width="0.8"/>
<circle cx="404.5" cy="549.2" r="1.55" fill="#3a3f52" stroke="#8d95ab" stroke-width="0.8"/>
<circle cx="399.0" cy="545.8" r="1.55" fill="#3a3f52" stroke="#8d95ab" stroke-width="0.8"/>
<circle cx="392.5" cy="554.0" r="1.55" fill="#3a3f52" stroke="#8d95ab" stroke-width="0.8"/>
<circle cx="409.5" cy="554.5" r="1.55" fill="#3a3f52" stroke="#8d95ab" stroke-width="0.8"/>
<circle cx="409.0" cy="557.5" r="1.55" fill="#3a3f52" stroke="#8d95ab" stroke-width="0.8"/>
<circle cx="412.0" cy="559.0" r="1.55" fill="#3a3f52" stroke="#8d95ab" stroke-width="0.8"/>
<circle cx="398.5" cy="562.5" r="1.55" fill="#3a3f52" stroke="#8d95ab" stroke-width="0.8"/>
<line x1="392.20" y1="450.30" x2="392.20" y2="562.80" stroke="#231f20" stroke-width="1.2"/>
<line x1="391.60" y1="562.20" x2="510.00" y2="562.20" stroke="#231f20" stroke-width="1.2"/>
<line x1="389.20" y1="562.00" x2="392.20" y2="562.00" stroke="#231f20" stroke-width="1"/>
<text x="386.40" y="564.40" font-size="8.3" text-anchor="end" fill="#333333" textLength="4.15" lengthAdjust="spacingAndGlyphs" >0</text>
<line x1="389.20" y1="548.31" x2="392.20" y2="548.31" stroke="#231f20" stroke-width="1"/>
<text x="386.40" y="550.71" font-size="8.3" text-anchor="end" fill="#333333" textLength="14.54" lengthAdjust="spacingAndGlyphs" >12.5</text>
<line x1="389.20" y1="540.10" x2="392.20" y2="540.10" stroke="#231f20" stroke-width="1"/>
<text x="386.40" y="542.50" font-size="8.3" text-anchor="end" fill="#333333" textLength="8.31" lengthAdjust="spacingAndGlyphs" >20</text>
<line x1="389.20" y1="518.20" x2="392.20" y2="518.20" stroke="#231f20" stroke-width="1"/>
<text x="386.40" y="520.60" font-size="8.3" text-anchor="end" fill="#333333" textLength="8.31" lengthAdjust="spacingAndGlyphs" >40</text>
<line x1="389.20" y1="496.30" x2="392.20" y2="496.30" stroke="#231f20" stroke-width="1"/>
<text x="386.40" y="498.70" font-size="8.3" text-anchor="end" fill="#333333" textLength="8.31" lengthAdjust="spacingAndGlyphs" >60</text>
<line x1="389.20" y1="474.40" x2="392.20" y2="474.40" stroke="#231f20" stroke-width="1"/>
<text x="386.40" y="476.80" font-size="8.3" text-anchor="end" fill="#333333" textLength="8.31" lengthAdjust="spacingAndGlyphs" >80</text>
<line x1="389.20" y1="452.50" x2="392.20" y2="452.50" stroke="#231f20" stroke-width="1"/>
<text x="386.40" y="454.90" font-size="8.3" text-anchor="end" fill="#333333" textLength="12.46" lengthAdjust="spacingAndGlyphs" >100</text>
<line x1="392.20" y1="562.20" x2="392.20" y2="565.20" stroke="#231f20" stroke-width="1"/>
<text x="0.00" y="0.00" font-size="8.3" text-anchor="end" fill="#333333" textLength="4.15" lengthAdjust="spacingAndGlyphs" transform="translate(396.20,573.60) rotate(-45)" >0</text>
<line x1="419.20" y1="562.20" x2="419.20" y2="565.20" stroke="#231f20" stroke-width="1"/>
<text x="0.00" y="0.00" font-size="8.3" text-anchor="end" fill="#333333" textLength="14.54" lengthAdjust="spacingAndGlyphs" transform="translate(423.20,573.60) rotate(-45)" >23.5</text>
<line x1="438.16" y1="562.20" x2="438.16" y2="565.20" stroke="#231f20" stroke-width="1"/>
<text x="0.00" y="0.00" font-size="8.3" text-anchor="end" fill="#333333" textLength="8.31" lengthAdjust="spacingAndGlyphs" transform="translate(442.16,573.60) rotate(-45)" >40</text>
<line x1="461.14" y1="562.20" x2="461.14" y2="565.20" stroke="#231f20" stroke-width="1"/>
<text x="0.00" y="0.00" font-size="8.3" text-anchor="end" fill="#333333" textLength="8.31" lengthAdjust="spacingAndGlyphs" transform="translate(465.14,573.60) rotate(-45)" >60</text>
<line x1="484.12" y1="562.20" x2="484.12" y2="565.20" stroke="#231f20" stroke-width="1"/>
<text x="0.00" y="0.00" font-size="8.3" text-anchor="end" fill="#333333" textLength="8.31" lengthAdjust="spacingAndGlyphs" transform="translate(488.12,573.60) rotate(-45)" >80</text>
<line x1="507.10" y1="562.20" x2="507.10" y2="565.20" stroke="#231f20" stroke-width="1"/>
<text x="0.00" y="0.00" font-size="8.3" text-anchor="end" fill="#333333" textLength="12.46" lengthAdjust="spacingAndGlyphs" transform="translate(511.10,573.60) rotate(-45)" >100</text>
<text x="0" y="0" font-size="9.2" text-anchor="middle" fill="#333333" textLength="133.8" lengthAdjust="spacingAndGlyphs" transform="translate(365.20,505.90) rotate(-90)">P815 cells + anti-CD16 – ΔCD107a<tspan font-size="6.5" dy="-3.4">+</tspan><tspan dy="3.4"> </tspan>(%)</text>
<text x="450.80" y="598" font-size="9.2" text-anchor="middle" fill="#333333" textLength="111.5" lengthAdjust="spacingAndGlyphs">P815 + anti-CD3 – ΔCD107a<tspan font-size="6.5" dy="-3.4">+</tspan><tspan dy="3.4"> </tspan>(%)</text>
<circle cx="166.5" cy="619.3" r="2.9" fill="#e0519a" stroke="#b3246c" stroke-width="0.8"/>
<text x="172.70" y="622.30" font-size="8.1" text-anchor="start" fill="#333333" textLength="54.30" lengthAdjust="spacingAndGlyphs" >HYPINF patients</text>
<circle cx="245.4" cy="619.3" r="2.9" fill="#e2b447" stroke="#d0a23c" stroke-width="0.8"/>
<text x="250.70" y="622.30" font-size="8.1" text-anchor="start" fill="#333333" textLength="37.30" lengthAdjust="spacingAndGlyphs" >IEI patients</text>
<circle cx="305.8" cy="619.3" r="2.9" fill="#3a3f52" stroke="#2e3240" stroke-width="0.8"/>
<text x="312.70" y="622.30" font-size="8.1" text-anchor="start" fill="#333333" textLength="43.80" lengthAdjust="spacingAndGlyphs" >EXO patients</text>
<rect x="0.5" y="0.5" width="519" height="629" fill="none" stroke="#4a4a4a" stroke-width="1"/>
</svg></body></html>
